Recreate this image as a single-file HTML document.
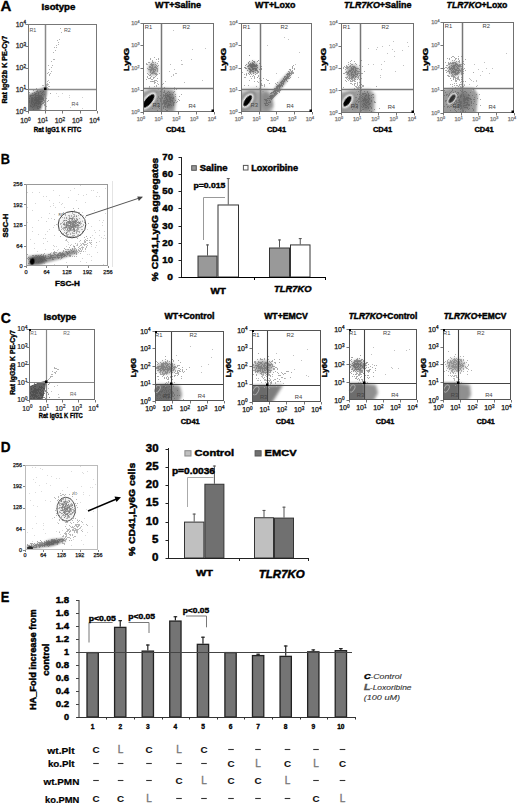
<!DOCTYPE html><html><head><meta charset="utf-8"><style>html,body{margin:0;padding:0;background:#fff}body{width:520px;height:804px;overflow:hidden}svg{display:block}text{font-family:"Liberation Sans",sans-serif}</style></head><body><svg width="520" height="804" viewBox="0 0 520 804"><defs><filter id="b0" x="-50%" y="-50%" width="200%" height="200%"><feGaussianBlur stdDeviation="0.4"/></filter><filter id="b1" x="-50%" y="-50%" width="200%" height="200%"><feGaussianBlur stdDeviation="1"/></filter><filter id="b2" x="-50%" y="-50%" width="200%" height="200%"><feGaussianBlur stdDeviation="2"/></filter><filter id="b1_5" x="-50%" y="-50%" width="200%" height="200%"><feGaussianBlur stdDeviation="1.5"/></filter><filter id="b0_7" x="-50%" y="-50%" width="200%" height="200%"><feGaussianBlur stdDeviation="0.7"/></filter><filter id="b3" x="-50%" y="-50%" width="200%" height="200%"><feGaussianBlur stdDeviation="3"/></filter><marker id="ah" markerWidth="6" markerHeight="6" refX="5" refY="3" orient="auto" markerUnits="userSpaceOnUse"><path d="M0 0L6 3L0 6z" fill="#000"/></marker></defs><rect width="520" height="804" fill="#fff"/><text x="0.64" y="11.2" font-size="14" font-weight="bold" fill="#000" stroke="#000" stroke-width="0.3" textLength="10.92" lengthAdjust="spacingAndGlyphs">A</text>
<text x="41.62" y="10.4" font-size="9.6" font-weight="bold" fill="#000" stroke="#000" stroke-width="0.45" textLength="33.77" lengthAdjust="spacingAndGlyphs">Isotype</text>
<text x="155.1" y="8.1" font-size="9.9" font-weight="bold" fill="#000" stroke="#000" stroke-width="0.45" textLength="45.99" lengthAdjust="spacingAndGlyphs">WT+Saline</text>
<text x="255.1" y="8.1" font-size="9.9" font-weight="bold" fill="#000" stroke="#000" stroke-width="0.45" textLength="40.29" lengthAdjust="spacingAndGlyphs">WT+Loxo</text>
<text x="344.1" y="8.1" font-size="9.9" font-weight="bold" fill="#000" stroke="#000" stroke-width="0.45" textLength="67.29" lengthAdjust="spacingAndGlyphs"><tspan font-style="italic">TLR7KO</tspan>+Saline</text>
<text x="446.6" y="8.1" font-size="9.9" font-weight="bold" fill="#000" stroke="#000" stroke-width="0.45" textLength="60.79" lengthAdjust="spacingAndGlyphs"><tspan font-style="italic">TLR7KO</tspan>+Loxo</text>
<clipPath id="c28_24"><rect x="28" y="24" width="69" height="87"/></clipPath>
<g clip-path="url(#c28_24)"><path d="M24 95L30 94L37 90.5L44 87.5L47 88L46.5 95L43 103L39 115L24 115z" fill="#707070" opacity="0.95" filter="url(#b1)"/></g>
<g clip-path="url(#c28_24)"><ellipse cx="36" cy="102" rx="5" ry="7" fill="#5a5a5a" opacity="0.7" transform="rotate(35 36 102)" filter="url(#b1_5)"/></g>
<path d="M36 88.5h1m-4 2h1m3 0h1m-2 1h1m0 0h1m2 0h1m2 0h1m1 0h1m-17 1h1m4 0h1m3 0h1m3 0h1m-11 1h1m2 0h1m0 0h1m1 0h1m2 0h1m8 0h1m-17 1h1m0 0h1m2 0h1m3 0h1m1 0h1m0 0h1m-16 1h1m0 0h1m0 0h1m0 0h1m1 0h1m0 0h1m0 0h1m0 0h1m0 0h1m0 0h1m0 0h1m-12 1h1m4 0h1m2 0h1m0 0h1m0 0h1m0 0h1m-11 1h1m0 0h1m1 0h1m0 0h1m0 0h1m0 0h1m0 0h1m0 0h1m0 0h1m0 0h1m0 0h1m2 0h1m-17 1h1m1 0h1m0 0h1m0 0h1m1 0h1m0 0h1m1 0h1m0 0h1m0 0h1m0 0h1m0 0h1m0 0h1m2 0h1m-16 1h1m0 0h1m1 0h1m0 0h1m0 0h1m0 0h1m0 0h1m0 0h1m0 0h1m0 0h1m0 0h1m0 0h1m-15 1h1m1 0h1m0 0h1m1 0h1m0 0h1m0 0h1m0 0h1m0 0h1m4 0h1m0 0h1m3 0h1m-20 1h1m1 0h1m0 0h1m3 0h1m0 0h1m0 0h1m0 0h1m0 0h1m0 0h1m0 0h1m1 0h1m2 0h1m-19 1h1m1 0h1m1 0h1m1 0h1m0 0h1m1 0h1m0 0h1m0 0h1m2 0h1m0 0h1m0 0h1m-15 1h1m2 0h1m0 0h1m0 0h1m0 0h1m0 0h1m0 0h1m0 0h1m1 0h1m0 0h1m-12 1h1m1 0h1m3 0h1m1 0h1m0 0h1m2 0h1m-15 1h1m3 0h1m1 0h1m3 0h1m3 0h1m-15 1h1m0 0h1m1 0h1m3 0h1m0 0h1m0 0h1m0 0h1m5 0h1m-15 1h1m4 0h1m1 0h1m0 0h1m-4 1h1m0 0h1m-6 1h1m-3 1h1m0 0h1m3 0h1m0 0h1" stroke="#505050" stroke-width="1" fill="none" opacity="0.5"/>
<path d="M60 28.5h1m0 4h1m-3 7h1m-3 1h1m0 2h1m-1 2h1m-3 1h1m-3 2h1m1 0h1m-2 3h1m-3 2h1m-1 7h1m0 0h1m-4 2h1m-4 4h1m3 0h1m-2 2h1m-3 2h1m1 2h1m-4 1h1m-2 1h1m2 0h1m-2 1h1m-1 1h1m-5 2h1m1 4h1m-2 3h1m0 0h1" stroke="#aaa" stroke-width="1" fill="none" opacity="0.9"/>
<path d="M48 80.5h1m0 2h1m-3 1h1m-3 1h1m2 0h1m-7 1h1m0 0h1m1 0h1m0 0h1m0 0h1m-2 1h1m1 0h1m0 0h1m-7 1h1m2 0h1m0 0h1m-2 1h1m0 0h1m0 0h1m-1 1h1" stroke="#aaa" stroke-width="1" fill="none" opacity="0.8"/>
<path d="M56 93.5h1m5 0h1m6 2h1m-12 1h1m10 1h1m12 0h1m-13 10h1m11 1h1" stroke="#ccc" stroke-width="1" fill="none" opacity="0.9"/>
<rect x="28.5" y="24.5" width="68" height="86" fill="none" stroke="#777" stroke-width="1"/>
<path d="M45.5 25L45.5 110" stroke="#8a8a8a" stroke-width="1.5" fill="none"/>
<path d="M29 89.5L96 89.5" stroke="#8a8a8a" stroke-width="1.5" fill="none"/>
<path d="M25.5 111.5L28 111.5" stroke="#666" stroke-width="0.9" fill="none"/>
<path d="M28.5 111L28.5 113.5" stroke="#666" stroke-width="0.9" fill="none"/>
<path d="M25.5 89.5L28 89.5" stroke="#666" stroke-width="0.9" fill="none"/>
<path d="M45.5 111L45.5 113.5" stroke="#666" stroke-width="0.9" fill="none"/>
<path d="M25.5 68.5L28 68.5" stroke="#666" stroke-width="0.9" fill="none"/>
<path d="M62.5 111L62.5 113.5" stroke="#666" stroke-width="0.9" fill="none"/>
<path d="M25.5 46.5L28 46.5" stroke="#666" stroke-width="0.9" fill="none"/>
<path d="M80.5 111L80.5 113.5" stroke="#666" stroke-width="0.9" fill="none"/>
<path d="M25.5 24.5L28 24.5" stroke="#666" stroke-width="0.9" fill="none"/>
<path d="M97.5 111L97.5 113.5" stroke="#666" stroke-width="0.9" fill="none"/>
<text x="26" y="113.52" font-size="7" font-weight="normal" fill="#333" text-anchor="end" stroke="#333" stroke-width="0.3">10<tspan font-size="4.62" dy="-2.31">0</tspan></text>
<text x="30.5" y="123" font-size="7" font-weight="normal" fill="#333" text-anchor="end" stroke="#333" stroke-width="0.3">10<tspan font-size="4.62" dy="-2.31">0</tspan></text>
<text x="26" y="91.77" font-size="7" font-weight="normal" fill="#333" text-anchor="end" stroke="#333" stroke-width="0.3">10<tspan font-size="4.62" dy="-2.31">1</tspan></text>
<text x="47.75" y="123" font-size="7" font-weight="normal" fill="#333" text-anchor="end" stroke="#333" stroke-width="0.3">10<tspan font-size="4.62" dy="-2.31">1</tspan></text>
<text x="26" y="70.02" font-size="7" font-weight="normal" fill="#333" text-anchor="end" stroke="#333" stroke-width="0.3">10<tspan font-size="4.62" dy="-2.31">2</tspan></text>
<text x="65.0" y="123" font-size="7" font-weight="normal" fill="#333" text-anchor="end" stroke="#333" stroke-width="0.3">10<tspan font-size="4.62" dy="-2.31">2</tspan></text>
<text x="26" y="48.27" font-size="7" font-weight="normal" fill="#333" text-anchor="end" stroke="#333" stroke-width="0.3">10<tspan font-size="4.62" dy="-2.31">3</tspan></text>
<text x="82.25" y="123" font-size="7" font-weight="normal" fill="#333" text-anchor="end" stroke="#333" stroke-width="0.3">10<tspan font-size="4.62" dy="-2.31">3</tspan></text>
<text x="26" y="26.52" font-size="7" font-weight="normal" fill="#333" text-anchor="end" stroke="#333" stroke-width="0.3">10<tspan font-size="4.62" dy="-2.31">4</tspan></text>
<text x="99.5" y="123" font-size="7" font-weight="normal" fill="#333" text-anchor="end" stroke="#333" stroke-width="0.3">10<tspan font-size="4.62" dy="-2.31">4</tspan></text>
<text x="29.4" y="31.8" font-size="5.4" font-weight="normal" fill="#555">R1</text>
<text x="63.9" y="31.8" font-size="5.4" font-weight="normal" fill="#555">R2</text>
<text x="71.5" y="105.8" font-size="5.4" font-weight="normal" fill="#555">R4</text>
<rect x="44" y="87.5" width="2.5" height="2.5" fill="#000" stroke="none" stroke-width="1"/>
<text x="6.6" y="69.65" font-size="7.1" font-weight="bold" fill="#000" stroke="#000" stroke-width="0.35" text-anchor="middle" textLength="67.87" lengthAdjust="spacingAndGlyphs" transform="rotate(-90 6.6 69.65)">Rat IgG2b K PE-Cy7</text>
<text x="33.74" y="131.5" font-size="6.6" font-weight="bold" fill="#000" stroke="#000" stroke-width="0.33" textLength="47.53" lengthAdjust="spacingAndGlyphs">Rat IgG1 K FITC</text>
<clipPath id="c143_23"><rect x="143" y="23" width="71" height="89"/></clipPath>
<g clip-path="url(#c143_23)"><path d="M139 93L150 89L165 88.5L174 90L176 100L174 116L139 116z" fill="#9a9a9a" opacity="0.95" filter="url(#b1_5)"/></g>
<g clip-path="url(#c143_23)"><ellipse cx="169" cy="101" rx="5.5" ry="8.5" fill="#707070" opacity="0.85" transform="rotate(0 169 101)" filter="url(#b1_5)"/></g>
<g clip-path="url(#c143_23)"><ellipse cx="156" cy="103" rx="4" ry="6" fill="#888" opacity="0.8" transform="rotate(0 156 103)" filter="url(#b1_5)"/></g>
<path d="M164 87.5h1m-5 1h1m1 0h1m0 0h1m2 0h1m-5 1h1m11 0h1m1 0h1m-13 1h1m-5 1h1m3 0h1m3 0h1m5 0h1m-19 1h1m6 0h1m0 0h1m2 0h1m1 0h1m3 0h1m-9 1h1m0 0h1m-12 1h1m0 0h1m6 0h1m1 0h1m1 0h1m1 0h1m0 0h1m1 0h1m2 0h1m5 0h1m-29 1h1m0 0h1m0 0h1m4 0h1m0 0h1m1 0h1m0 0h1m0 0h1m0 0h1m0 0h1m0 0h1m-11 1h1m4 0h1m1 0h1m1 0h1m0 0h1m0 0h1m5 0h1m3 0h1m-22 1h1m2 0h1m0 0h1m2 0h1m0 0h1m2 0h1m0 0h1m0 0h1m1 0h1m-19 1h1m1 0h1m1 0h1m0 0h1m0 0h1m0 0h1m1 0h1m1 0h1m2 0h1m0 0h1m1 0h1m0 0h1m-19 1h1m4 0h1m0 0h1m4 0h1m0 0h1m1 0h1m0 0h1m7 0h1m-24 1h1m1 0h1m2 0h1m2 0h1m0 0h1m0 0h1m1 0h1m2 0h1m0 0h1m0 0h1m2 0h1m3 0h1m-20 1h1m2 0h1m0 0h1m1 0h1m0 0h1m0 0h1m0 0h1m0 0h1m1 0h1m4 0h1m-15 1h1m0 0h1m0 0h1m0 0h1m3 0h1m2 0h1m0 0h1m1 0h1m-22 1h1m2 0h1m3 0h1m0 0h1m0 0h1m0 0h1m0 0h1m1 0h1m4 0h1m-22 1h1m0 0h1m8 0h1m1 0h1m0 0h1m2 0h1m0 0h1m0 0h1m2 0h1m-10 1h1m2 0h1m0 0h1m0 0h1m1 0h1m1 0h1m-15 1h1m3 0h1m0 0h1m0 0h1m1 0h1m-10 1h1m4 0h1m1 0h1m1 0h1m-16 1h1m6 0h1m3 0h1m-3 1h1m3 0h1m-9 1h1m8 0h1m0 0h1m-2 1h1m1 0h1m8 0h1" stroke="#555" stroke-width="1" fill="none" opacity="0.5"/>
<g clip-path="url(#c143_23)"><ellipse cx="153" cy="69" rx="5" ry="6.5" fill="#999" opacity="0.9" transform="rotate(0 153 69)" filter="url(#b1_5)"/></g>
<path d="M154 57.5h1m-5 1h1m7 0h1m-9 1h1m5 0h1m1 0h1m-7 1h1m-1 1h1m5 0h1m-11 1h1m0 0h1m2 0h1m0 0h1m1 0h1m5 0h1m-16 1h1m4 0h1m5 0h1m-12 1h1m0 0h1m2 0h1m0 0h1m0 0h1m0 0h1m1 0h1m-5 1h1m0 0h1m3 0h1m1 0h1m2 0h1m-13 1h1m0 0h1m1 0h1m2 0h1m1 0h1m-9 1h1m0 0h1m0 0h1m0 0h1m1 0h1m0 0h1m0 0h1m-10 1h1m3 0h1m0 0h1m0 0h1m2 0h1m0 0h1m-10 1h1m0 0h1m0 0h1m0 0h1m0 0h1m0 0h1m0 0h1m0 0h1m1 0h1m-8 1h1m0 0h1m1 0h1m1 0h1m1 0h1m-8 1h1m2 0h1m0 0h1m2 0h1m-8 1h1m1 0h1m0 0h1m-7 1h1m3 0h1m0 0h1m1 0h1m0 0h1m0 0h1m2 0h1m-12 1h1m1 0h1m4 0h1m0 0h1m0 0h1m-9 1h1m0 0h1m5 0h1m-2 1h1m-6 1h1m3 0h1m-6 1h1m0 0h1m3 2h1m1 0h1m-5 1h1" stroke="#666" stroke-width="1" fill="none" opacity="0.55"/>
<path d="M154 72.5h1m-2 1h1m-5 2h1m-3 1h1m3 0h1m-5 1h1m2 0h1m2 0h1m-6 1h1m4 0h1m3 0h1m-12 1h1m4 0h1m0 0h1m2 1h1m-6 1h1m0 0h1m0 0h1m0 0h1m0 0h1m2 0h1m-4 1h1m0 0h1m-2 1h1m8 0h1m-6 1h1m3 0h1m-7 1h1m-8 1h1m4 0h1m1 0h1m1 2h1m-1 1h1m0 2h1" stroke="#999" stroke-width="1" fill="none" opacity="0.8"/>
<path d="M191 59.5h1m-11 1h1m-12 4h1m11 0h1m-9 5h1m-6 2h1m5 2h1m0 0h1m-4 1h1m-1 1h1m-9 6h1m18 1h1m-28 1h1m-9 4h1m24 0h1" stroke="#aaa" stroke-width="1" fill="none" opacity="0.8"/>
<path d="M173 30.5h1m31 18h1m-14 1h1m-12 15h1m-11 12h1m30 4h1" stroke="#bbb" stroke-width="1" fill="none" opacity="0.9"/>
<g clip-path="url(#c143_23)"><ellipse cx="148.5" cy="101" rx="13" ry="7" fill="#888" opacity="0.9" transform="rotate(-50 148.5 101)" filter="url(#b1)"/></g>
<g clip-path="url(#c143_23)"><ellipse cx="148.5" cy="101" rx="10.5" ry="5" fill="#fff" opacity="1" transform="rotate(-50 148.5 101)" filter="url(#b1)"/></g>
<g clip-path="url(#c143_23)"><ellipse cx="148.5" cy="101" rx="8.5" ry="3.2" fill="#000" opacity="1" transform="rotate(-50 148.5 101)" filter="url(#b0)"/></g>
<rect x="143.5" y="23.5" width="70" height="88" fill="none" stroke="#707070" stroke-width="1"/>
<path d="M161.5 24L161.5 111" stroke="#777" stroke-width="1.5" fill="none"/>
<path d="M144 88.5L213 88.5" stroke="#777" stroke-width="1.5" fill="none"/>
<path d="M140.5 112.5L143 112.5" stroke="#666" stroke-width="0.9" fill="none"/>
<path d="M143.5 112L143.5 114.5" stroke="#666" stroke-width="0.9" fill="none"/>
<path d="M140.5 90.5L143 90.5" stroke="#666" stroke-width="0.9" fill="none"/>
<path d="M161.5 112L161.5 114.5" stroke="#666" stroke-width="0.9" fill="none"/>
<path d="M140.5 68.5L143 68.5" stroke="#666" stroke-width="0.9" fill="none"/>
<path d="M178.5 112L178.5 114.5" stroke="#666" stroke-width="0.9" fill="none"/>
<path d="M140.5 45.5L143 45.5" stroke="#666" stroke-width="0.9" fill="none"/>
<path d="M196.5 112L196.5 114.5" stroke="#666" stroke-width="0.9" fill="none"/>
<path d="M140.5 23.5L143 23.5" stroke="#666" stroke-width="0.9" fill="none"/>
<path d="M214.5 112L214.5 114.5" stroke="#666" stroke-width="0.9" fill="none"/>
<text x="139.5" y="114.016" font-size="5.6" font-weight="normal" fill="#777" text-anchor="end" stroke="#777" stroke-width="0.25">10<tspan font-size="3.70" dy="-1.85">0</tspan></text>
<text x="145.0" y="120.5" font-size="5.6" font-weight="normal" fill="#777" text-anchor="end" stroke="#777" stroke-width="0.25">10<tspan font-size="3.70" dy="-1.85">0</tspan></text>
<text x="139.5" y="91.766" font-size="5.6" font-weight="normal" fill="#777" text-anchor="end" stroke="#777" stroke-width="0.25">10<tspan font-size="3.70" dy="-1.85">1</tspan></text>
<text x="162.75" y="120.5" font-size="5.6" font-weight="normal" fill="#777" text-anchor="end" stroke="#777" stroke-width="0.25">10<tspan font-size="3.70" dy="-1.85">1</tspan></text>
<text x="139.5" y="69.516" font-size="5.6" font-weight="normal" fill="#777" text-anchor="end" stroke="#777" stroke-width="0.25">10<tspan font-size="3.70" dy="-1.85">2</tspan></text>
<text x="180.5" y="120.5" font-size="5.6" font-weight="normal" fill="#777" text-anchor="end" stroke="#777" stroke-width="0.25">10<tspan font-size="3.70" dy="-1.85">2</tspan></text>
<text x="139.5" y="47.266" font-size="5.6" font-weight="normal" fill="#777" text-anchor="end" stroke="#777" stroke-width="0.25">10<tspan font-size="3.70" dy="-1.85">3</tspan></text>
<text x="198.25" y="120.5" font-size="5.6" font-weight="normal" fill="#777" text-anchor="end" stroke="#777" stroke-width="0.25">10<tspan font-size="3.70" dy="-1.85">3</tspan></text>
<text x="139.5" y="25.016" font-size="5.6" font-weight="normal" fill="#777" text-anchor="end" stroke="#777" stroke-width="0.25">10<tspan font-size="3.70" dy="-1.85">4</tspan></text>
<text x="216.0" y="120.5" font-size="5.6" font-weight="normal" fill="#777" text-anchor="end" stroke="#777" stroke-width="0.25">10<tspan font-size="3.70" dy="-1.85">4</tspan></text>
<text x="144.8" y="28.8" font-size="5.8" font-weight="normal" fill="#444">R1</text>
<text x="182.5" y="28.8" font-size="5.8" font-weight="normal" fill="#444">R2</text>
<text x="152.5" y="107.0" font-size="5.8" font-weight="normal" fill="#444">R3</text>
<text x="188.4" y="108.4" font-size="5.8" font-weight="normal" fill="#444">R4</text>
<rect x="211.5" y="109.5" width="2.5" height="2.5" fill="#000" stroke="none" stroke-width="1"/>
<text x="129.5" y="59.6" font-size="7.5" font-weight="bold" fill="#000" stroke="#000" stroke-width="0.38" text-anchor="middle" textLength="23.2" lengthAdjust="spacingAndGlyphs" transform="rotate(-90 129.5 59.6)">Ly6G</text>
<text x="165.94" y="131.5" font-size="6.6" font-weight="bold" fill="#000" stroke="#000" stroke-width="0.33" textLength="19.13" lengthAdjust="spacingAndGlyphs">CD41</text>
<clipPath id="c241_23"><rect x="241" y="23" width="71" height="89"/></clipPath>
<g clip-path="url(#c241_23)"><path d="M237 92L255 89L262 89L270 92L272 116L237 116z" fill="#a0a0a0" opacity="0.95" filter="url(#b2)"/></g>
<g clip-path="url(#c241_23)"><ellipse cx="266" cy="101" rx="5" ry="10" fill="#888" opacity="0.8" transform="rotate(0 266 101)" filter="url(#b2)"/></g>
<g clip-path="url(#c241_23)"><ellipse cx="279" cy="87" rx="20" ry="2.8" fill="#808080" opacity="0.9" transform="rotate(-52 279 87)" filter="url(#b1)"/></g>
<g clip-path="url(#c241_23)"><ellipse cx="268" cy="101" rx="4" ry="8" fill="#888" opacity="0.8" transform="rotate(-30 268 101)" filter="url(#b1_5)"/></g>
<path d="M293 65.5h1m-2 1h1m-1 1h1m-1 1h1m1 0h1m-6 1h1m0 0h1m3 0h1m-5 1h1m1 0h1m-5 1h1m0 0h1m1 0h1m0 0h1m-4 1h1m1 0h1m0 0h1m0 0h1m-7 1h1m0 0h1m0 0h1m0 0h1m0 0h1m0 0h1m0 0h1m-8 1h1m0 0h1m0 0h1m0 0h1m1 0h1m-5 1h1m1 0h1m0 0h1m-7 1h1m0 0h1m1 0h1m0 0h1m0 0h1m-6 1h1m1 0h1m0 0h1m0 0h1m1 0h1m-8 1h1m1 0h1m0 0h1m0 0h1m0 0h1m0 0h1m-7 1h1m0 0h1m0 0h1m0 0h1m-5 1h1m1 0h1m1 0h1m-6 1h1m0 0h1m0 0h1m0 0h1m2 0h1m-11 1h1m2 0h1m0 0h1m1 0h1m-3 1h1m0 0h1m0 0h1m-8 1h1m2 0h1m1 0h1m1 0h1m-7 1h1m0 0h1m0 0h1m0 0h1m0 0h1m0 0h1m-7 1h1m0 0h1m0 0h1m0 0h1m0 0h1m1 0h1m-7 1h1m0 0h1m1 0h1m-6 1h1m0 0h1m0 0h1m0 0h1m1 0h1m-5 1h1m5 0h1m-8 1h1m0 0h1m0 0h1m0 0h1m0 0h1m0 0h1m0 0h1m-8 1h1m0 0h1m0 0h1m1 0h1m0 0h1m0 0h1m-9 1h1m0 0h1m0 0h1m1 0h1m0 0h1m2 0h1m-10 1h1m0 0h1m2 0h1m0 0h1m0 0h1m0 0h1m-4 1h1m0 0h1m0 0h1m-7 1h1m0 0h1m0 0h1m0 0h1m0 0h1m0 0h1m-7 1h1m0 0h1m0 0h1m0 0h1m0 0h1m0 0h1m-5 1h1m0 0h1m0 0h1m0 0h1m-7 1h1m0 0h1m0 0h1m0 0h1m0 0h1m0 0h1m-9 1h1m0 0h1m0 0h1m4 0h1m-7 1h1m0 0h1m0 0h1m1 0h1m-4 1h1m3 0h1m-5 1h1m1 0h1m0 0h1m0 0h1m-7 1h1m0 0h1m0 0h1m0 0h1m-3 1h1m2 0h1m-4 1h1m0 0h1m0 0h1" stroke="#555" stroke-width="1" fill="none" opacity="0.55"/>
<g clip-path="url(#c241_23)"><ellipse cx="253" cy="67.5" rx="5.5" ry="5.5" fill="#7a7a7a" opacity="0.9" transform="rotate(0 253 67.5)" filter="url(#b1_5)"/></g>
<path d="M249 55.5h1m2 5h1m5 0h1m-10 1h1m3 0h1m0 0h1m2 0h1m-10 1h1m3 0h1m1 0h1m-7 1h1m1 0h1m1 0h1m0 0h1m5 0h1m-14 1h1m2 0h1m0 0h1m0 0h1m0 0h1m0 0h1m0 0h1m1 0h1m-12 1h1m2 0h1m0 0h1m0 0h1m0 0h1m0 0h1m0 0h1m0 0h1m0 0h1m0 0h1m0 0h1m-11 1h1m0 0h1m1 0h1m0 0h1m0 0h1m0 0h1m0 0h1m0 0h1m0 0h1m4 0h1m-18 1h1m0 0h1m5 0h1m0 0h1m4 0h1m-13 1h1m0 0h1m1 0h1m0 0h1m2 0h1m0 0h1m0 0h1m0 0h1m0 0h1m3 0h1m0 0h1m-13 1h1m0 0h1m1 0h1m0 0h1m1 0h1m0 0h1m2 0h1m1 0h1m-15 1h1m2 0h1m0 0h1m2 0h1m0 0h1m0 0h1m0 0h1m-9 1h1m0 0h1m0 0h1m0 0h1m0 0h1m3 0h1m0 0h1m-10 1h1m0 0h1m4 0h1m2 0h1m-11 1h1m1 0h1m2 0h1m-8 1h1m2 0h1m5 0h1m1 3h1" stroke="#555" stroke-width="1" fill="none" opacity="0.6"/>
<path d="M251 68.5h1m2 2h1m-4 1h1m-10 1h1m6 0h1m3 0h1m3 0h1m-12 1h1m9 0h1m0 0h1m-14 1h1m4 0h1m1 0h1m-6 1h1m6 0h1m4 0h1m-9 1h1m1 0h1m1 0h1m3 0h1m-15 1h1m0 0h1m8 0h1m-4 1h1m2 0h1m4 0h1m3 0h1m2 1h1m-18 1h1m11 0h1m5 0h1m0 0h1m-15 1h1m2 0h1m0 1h1m2 1h1m7 0h1m5 0h1m-15 1h1m2 0h1m-21 1h1m3 0h1m11 0h1m0 0h1m0 0h1m1 0h1m-9 1h1m7 0h1m-6 2h1m3 1h1m-2 2h1m0 0h1m-3 4h1" stroke="#999" stroke-width="1" fill="none" opacity="0.8"/>
<path d="M284 37.5h1m3 2h1m-22 6h1m31 7h1m-5 12h1m-7 7h1m-14 2h1m21 4h1" stroke="#bbb" stroke-width="1" fill="none" opacity="0.9"/>
<g clip-path="url(#c241_23)"><ellipse cx="247.6" cy="100.7" rx="11" ry="6.5" fill="#777" opacity="0.9" transform="rotate(-55 247.6 100.7)" filter="url(#b1)"/></g>
<g clip-path="url(#c241_23)"><ellipse cx="247.6" cy="100.7" rx="8.5" ry="4.5" fill="#fff" opacity="1" transform="rotate(-55 247.6 100.7)" filter="url(#b1)"/></g>
<g clip-path="url(#c241_23)"><ellipse cx="247.6" cy="100.7" rx="6.5" ry="2.8" fill="#000" opacity="1" transform="rotate(-55 247.6 100.7)" filter="url(#b0)"/></g>
<rect x="241.5" y="23.5" width="70" height="88" fill="none" stroke="#707070" stroke-width="1"/>
<path d="M260.5 24L260.5 111" stroke="#777" stroke-width="1.5" fill="none"/>
<path d="M242 89.5L311 89.5" stroke="#777" stroke-width="1.5" fill="none"/>
<path d="M238.5 112.5L241 112.5" stroke="#666" stroke-width="0.9" fill="none"/>
<path d="M241.5 112L241.5 114.5" stroke="#666" stroke-width="0.9" fill="none"/>
<path d="M238.5 90.5L241 90.5" stroke="#666" stroke-width="0.9" fill="none"/>
<path d="M259.5 112L259.5 114.5" stroke="#666" stroke-width="0.9" fill="none"/>
<path d="M238.5 68.5L241 68.5" stroke="#666" stroke-width="0.9" fill="none"/>
<path d="M276.5 112L276.5 114.5" stroke="#666" stroke-width="0.9" fill="none"/>
<path d="M238.5 45.5L241 45.5" stroke="#666" stroke-width="0.9" fill="none"/>
<path d="M294.5 112L294.5 114.5" stroke="#666" stroke-width="0.9" fill="none"/>
<path d="M238.5 23.5L241 23.5" stroke="#666" stroke-width="0.9" fill="none"/>
<path d="M312.5 112L312.5 114.5" stroke="#666" stroke-width="0.9" fill="none"/>
<text x="237.5" y="114.016" font-size="5.6" font-weight="normal" fill="#777" text-anchor="end" stroke="#777" stroke-width="0.25">10<tspan font-size="3.70" dy="-1.85">0</tspan></text>
<text x="243.0" y="120.5" font-size="5.6" font-weight="normal" fill="#777" text-anchor="end" stroke="#777" stroke-width="0.25">10<tspan font-size="3.70" dy="-1.85">0</tspan></text>
<text x="237.5" y="91.766" font-size="5.6" font-weight="normal" fill="#777" text-anchor="end" stroke="#777" stroke-width="0.25">10<tspan font-size="3.70" dy="-1.85">1</tspan></text>
<text x="260.75" y="120.5" font-size="5.6" font-weight="normal" fill="#777" text-anchor="end" stroke="#777" stroke-width="0.25">10<tspan font-size="3.70" dy="-1.85">1</tspan></text>
<text x="237.5" y="69.516" font-size="5.6" font-weight="normal" fill="#777" text-anchor="end" stroke="#777" stroke-width="0.25">10<tspan font-size="3.70" dy="-1.85">2</tspan></text>
<text x="278.5" y="120.5" font-size="5.6" font-weight="normal" fill="#777" text-anchor="end" stroke="#777" stroke-width="0.25">10<tspan font-size="3.70" dy="-1.85">2</tspan></text>
<text x="237.5" y="47.266" font-size="5.6" font-weight="normal" fill="#777" text-anchor="end" stroke="#777" stroke-width="0.25">10<tspan font-size="3.70" dy="-1.85">3</tspan></text>
<text x="296.25" y="120.5" font-size="5.6" font-weight="normal" fill="#777" text-anchor="end" stroke="#777" stroke-width="0.25">10<tspan font-size="3.70" dy="-1.85">3</tspan></text>
<text x="237.5" y="25.016" font-size="5.6" font-weight="normal" fill="#777" text-anchor="end" stroke="#777" stroke-width="0.25">10<tspan font-size="3.70" dy="-1.85">4</tspan></text>
<text x="314.0" y="120.5" font-size="5.6" font-weight="normal" fill="#777" text-anchor="end" stroke="#777" stroke-width="0.25">10<tspan font-size="3.70" dy="-1.85">4</tspan></text>
<text x="242.8" y="28.8" font-size="5.8" font-weight="normal" fill="#444">R1</text>
<text x="280.5" y="28.8" font-size="5.8" font-weight="normal" fill="#444">R2</text>
<text x="250.5" y="107.0" font-size="5.8" font-weight="normal" fill="#444">R3</text>
<text x="286.4" y="108.4" font-size="5.8" font-weight="normal" fill="#444">R4</text>
<rect x="309.5" y="109.5" width="2.5" height="2.5" fill="#000" stroke="none" stroke-width="1"/>
<text x="226" y="59.6" font-size="7.5" font-weight="bold" fill="#000" stroke="#000" stroke-width="0.38" text-anchor="middle" textLength="23.2" lengthAdjust="spacingAndGlyphs" transform="rotate(-90 226 59.6)">Ly6G</text>
<text x="266.94" y="131.5" font-size="6.6" font-weight="bold" fill="#000" stroke="#000" stroke-width="0.33" textLength="19.13" lengthAdjust="spacingAndGlyphs">CD41</text>
<clipPath id="c341_23"><rect x="341" y="23" width="73" height="90"/></clipPath>
<g clip-path="url(#c341_23)"><path d="M337 93L355 89.5L370 89.5L375 95L374 117L337 117z" fill="#9a9a9a" opacity="0.95" filter="url(#b1_5)"/></g>
<g clip-path="url(#c341_23)"><ellipse cx="366" cy="102" rx="5.5" ry="9" fill="#707070" opacity="0.85" transform="rotate(0 366 102)" filter="url(#b1_5)"/></g>
<g clip-path="url(#c341_23)"><ellipse cx="355" cy="104" rx="4" ry="6" fill="#888" opacity="0.8" transform="rotate(0 355 104)" filter="url(#b1_5)"/></g>
<path d="M376 86.5h1m-23 2h1m8 1h1m-3 1h1m-4 1h1m5 0h1m2 0h1m-8 1h1m6 0h1m-17 1h1m10 0h1m0 0h1m0 0h1m0 0h1m2 0h1m-12 1h1m1 0h1m2 0h1m0 0h1m2 0h1m1 0h1m3 0h1m0 0h1m-14 1h1m0 0h1m3 0h1m0 0h1m1 0h1m0 0h1m1 0h1m-13 1h1m2 0h1m2 0h1m2 0h1m-19 1h1m4 0h1m0 0h1m2 0h1m1 0h1m2 0h1m3 0h1m2 0h1m1 0h1m-21 1h1m4 0h1m0 0h1m0 0h1m1 0h1m1 0h1m0 0h1m2 0h1m0 0h1m-12 1h1m0 0h1m3 0h1m0 0h1m0 0h1m0 0h1m0 0h1m1 0h1m-17 1h1m3 0h1m4 0h1m0 0h1m0 0h1m0 0h1m0 0h1m1 0h1m2 0h1m-23 1h1m6 0h1m1 0h1m0 0h1m0 0h1m0 0h1m1 0h1m1 0h1m1 0h1m0 0h1m2 0h1m2 0h1m-23 1h1m5 0h1m1 0h1m4 0h1m0 0h1m0 0h1m0 0h1m5 0h1m0 0h1m-21 1h1m7 0h1m0 0h1m1 0h1m2 0h1m0 0h1m-9 1h1m1 0h1m0 0h1m2 0h1m0 0h1m-10 1h1m2 0h1m1 0h1m0 0h1m-13 1h1m1 0h1m0 0h1m2 0h1m0 0h1m1 0h1m3 0h1m2 0h1m-20 1h1m8 0h1m1 0h1m2 0h1m0 0h1m1 0h1m2 0h1m-15 1h1m10 0h1m2 0h1m7 0h1m-28 1h1m9 0h1m0 0h1m10 0h1m-14 1h1m7 0h1m-10 1h1m10 0h1m-14 1h1m0 0h1m7 0h1" stroke="#555" stroke-width="1" fill="none" opacity="0.5"/>
<g clip-path="url(#c341_23)"><ellipse cx="353" cy="72" rx="6.5" ry="7" fill="#8a8a8a" opacity="0.9" transform="rotate(0 353 72)" filter="url(#b1_5)"/></g>
<path d="M351 60.5h1m9 0h1m-12 1h1m3 0h1m-7 1h1m1 1h1m4 0h1m4 0h1m-13 1h1m2 0h1m0 0h1m3 0h1m-11 1h1m3 0h1m8 0h1m-16 1h1m1 0h1m0 0h1m1 0h1m0 0h1m1 0h1m0 0h1m0 0h1m7 0h1m-20 1h1m1 0h1m0 0h1m0 0h1m0 0h1m2 0h1m1 0h1m0 0h1m0 0h1m-13 1h1m2 0h1m0 0h1m3 0h1m0 0h1m0 0h1m1 0h1m0 0h1m0 0h1m0 0h1m-14 1h1m5 0h1m0 0h1m0 0h1m1 0h1m3 0h1m-11 1h1m0 0h1m0 0h1m1 0h1m1 0h1m0 0h1m3 0h1m-15 1h1m1 0h1m0 0h1m0 0h1m1 0h1m1 0h1m0 0h1m1 0h1m0 0h1m0 0h1m4 0h1m-20 1h1m0 0h1m0 0h1m0 0h1m2 0h1m0 0h1m0 0h1m0 0h1m0 0h1m4 0h1m-18 1h1m0 0h1m2 0h1m0 0h1m1 0h1m0 0h1m1 0h1m0 0h1m0 0h1m1 0h1m0 0h1m0 0h1m1 0h1m0 0h1m-16 1h1m1 0h1m1 0h1m0 0h1m0 0h1m1 0h1m0 0h1m0 0h1m-10 1h1m0 0h1m1 0h1m1 0h1m0 0h1m2 0h1m1 0h1m0 0h1m-12 1h1m1 0h1m0 0h1m0 0h1m1 0h1m0 0h1m1 0h1m-14 1h1m0 0h1m0 0h1m1 0h1m1 0h1m0 0h1m0 0h1m1 0h1m2 0h1m-13 1h1m1 0h1m0 0h1m0 0h1m0 0h1m0 0h1m1 0h1m3 0h1m2 0h1m-13 1h1m1 0h1m3 0h1m1 0h1m1 0h1m-15 1h1m6 0h1m1 0h1m-9 1h1m3 0h1m0 0h1m7 1h1m-6 2h1m6 0h1" stroke="#555" stroke-width="1" fill="none" opacity="0.5"/>
<path d="M349 72.5h1m3 0h1m4 0h1m-9 1h1m2 0h1m0 0h1m-9 1h1m3 0h1m-3 1h1m0 0h1m0 0h1m-4 1h1m1 0h1m1 0h1m6 0h1m-2 1h1m2 1h1m-14 1h1m3 0h1m0 0h1m1 0h1m-7 1h1m1 0h1m2 0h1m6 0h1m-9 1h1m1 0h1m0 0h1m1 1h1m-8 1h1m0 0h1m2 0h1m0 0h1m1 0h1m-6 1h1m4 0h1m3 0h1m-8 1h1m2 0h1m1 0h1m2 0h1m0 0h1m-9 1h1m0 0h1m1 0h1m3 0h1m0 0h1m-21 1h1m12 0h1m0 0h1m0 0h1m0 0h1m0 0h1m0 0h1m-8 1h1m2 0h1m0 0h1m-3 1h1m4 0h1m-6 2h1m-2 1h1m6 0h1m-9 3h1" stroke="#999" stroke-width="1" fill="none" opacity="0.8"/>
<path d="M393 41.5h1m13 1h1m-19 3h1m-8 1h1m25 0h1m-32 1h1m-10 1h1m7 1h1m15 0h1m9 1h1m-9 1h1m-8 2h1m6 3h1m-11 5h1m-17 3h1m4 0h1m7 0h1m21 1h1m-23 4h1m13 2h1m-16 4h1m-1 2h1" stroke="#bbb" stroke-width="1" fill="none" opacity="0.9"/>
<g clip-path="url(#c341_23)"><ellipse cx="347.4" cy="101.3" rx="10.5" ry="6.5" fill="#888" opacity="0.9" transform="rotate(-55 347.4 101.3)" filter="url(#b1)"/></g>
<g clip-path="url(#c341_23)"><ellipse cx="347.4" cy="101.3" rx="8" ry="4.5" fill="#fff" opacity="1" transform="rotate(-55 347.4 101.3)" filter="url(#b1)"/></g>
<g clip-path="url(#c341_23)"><ellipse cx="347.4" cy="101.3" rx="6" ry="2.8" fill="#000" opacity="1" transform="rotate(-55 347.4 101.3)" filter="url(#b0)"/></g>
<rect x="341.5" y="23.5" width="72" height="89" fill="none" stroke="#707070" stroke-width="1"/>
<path d="M360.5 24L360.5 112" stroke="#777" stroke-width="1.5" fill="none"/>
<path d="M342 89.5L413 89.5" stroke="#777" stroke-width="1.5" fill="none"/>
<path d="M338.5 113.5L341 113.5" stroke="#666" stroke-width="0.9" fill="none"/>
<path d="M341.5 113L341.5 115.5" stroke="#666" stroke-width="0.9" fill="none"/>
<path d="M338.5 90.5L341 90.5" stroke="#666" stroke-width="0.9" fill="none"/>
<path d="M359.5 113L359.5 115.5" stroke="#666" stroke-width="0.9" fill="none"/>
<path d="M338.5 68.5L341 68.5" stroke="#666" stroke-width="0.9" fill="none"/>
<path d="M378.5 113L378.5 115.5" stroke="#666" stroke-width="0.9" fill="none"/>
<path d="M338.5 46.5L341 46.5" stroke="#666" stroke-width="0.9" fill="none"/>
<path d="M396.5 113L396.5 115.5" stroke="#666" stroke-width="0.9" fill="none"/>
<path d="M338.5 23.5L341 23.5" stroke="#666" stroke-width="0.9" fill="none"/>
<path d="M414.5 113L414.5 115.5" stroke="#666" stroke-width="0.9" fill="none"/>
<text x="337.5" y="115.016" font-size="5.6" font-weight="normal" fill="#777" text-anchor="end" stroke="#777" stroke-width="0.25">10<tspan font-size="3.70" dy="-1.85">0</tspan></text>
<text x="343.0" y="120.5" font-size="5.6" font-weight="normal" fill="#777" text-anchor="end" stroke="#777" stroke-width="0.25">10<tspan font-size="3.70" dy="-1.85">0</tspan></text>
<text x="337.5" y="92.516" font-size="5.6" font-weight="normal" fill="#777" text-anchor="end" stroke="#777" stroke-width="0.25">10<tspan font-size="3.70" dy="-1.85">1</tspan></text>
<text x="361.25" y="120.5" font-size="5.6" font-weight="normal" fill="#777" text-anchor="end" stroke="#777" stroke-width="0.25">10<tspan font-size="3.70" dy="-1.85">1</tspan></text>
<text x="337.5" y="70.016" font-size="5.6" font-weight="normal" fill="#777" text-anchor="end" stroke="#777" stroke-width="0.25">10<tspan font-size="3.70" dy="-1.85">2</tspan></text>
<text x="379.5" y="120.5" font-size="5.6" font-weight="normal" fill="#777" text-anchor="end" stroke="#777" stroke-width="0.25">10<tspan font-size="3.70" dy="-1.85">2</tspan></text>
<text x="337.5" y="47.516" font-size="5.6" font-weight="normal" fill="#777" text-anchor="end" stroke="#777" stroke-width="0.25">10<tspan font-size="3.70" dy="-1.85">3</tspan></text>
<text x="397.75" y="120.5" font-size="5.6" font-weight="normal" fill="#777" text-anchor="end" stroke="#777" stroke-width="0.25">10<tspan font-size="3.70" dy="-1.85">3</tspan></text>
<text x="337.5" y="25.016" font-size="5.6" font-weight="normal" fill="#777" text-anchor="end" stroke="#777" stroke-width="0.25">10<tspan font-size="3.70" dy="-1.85">4</tspan></text>
<text x="416.0" y="120.5" font-size="5.6" font-weight="normal" fill="#777" text-anchor="end" stroke="#777" stroke-width="0.25">10<tspan font-size="3.70" dy="-1.85">4</tspan></text>
<text x="342.8" y="28.9" font-size="5.8" font-weight="normal" fill="#444">R1</text>
<text x="381.6" y="28.9" font-size="5.8" font-weight="normal" fill="#444">R2</text>
<text x="350.8" y="108.0" font-size="5.8" font-weight="normal" fill="#444">R3</text>
<text x="387.7" y="109.4" font-size="5.8" font-weight="normal" fill="#444">R4</text>
<rect x="411.5" y="110.5" width="2.5" height="2.5" fill="#000" stroke="none" stroke-width="1"/>
<text x="326" y="59.6" font-size="7.5" font-weight="bold" fill="#000" stroke="#000" stroke-width="0.38" text-anchor="middle" textLength="23.2" lengthAdjust="spacingAndGlyphs" transform="rotate(-90 326 59.6)">Ly6G</text>
<text x="372.94" y="131.5" font-size="6.6" font-weight="bold" fill="#000" stroke="#000" stroke-width="0.33" textLength="19.13" lengthAdjust="spacingAndGlyphs">CD41</text>
<clipPath id="c443_22"><rect x="443" y="22" width="71" height="91"/></clipPath>
<g clip-path="url(#c443_22)"><path d="M439 90L460 87.5L474 88L478 95L476 117L439 117z" fill="#959595" opacity="0.95" filter="url(#b1)"/></g>
<g clip-path="url(#c443_22)"><ellipse cx="464" cy="101" rx="7" ry="9" fill="#707070" opacity="0.8" transform="rotate(0 464 101)" filter="url(#b1_5)"/></g>
<path d="M458 86.5h1m17 0h1m-12 2h1m2 0h1m1 0h1m-19 1h1m20 0h1m-30 1h1m7 0h1m7 0h1m-10 1h1m3 0h1m5 0h1m0 0h1m1 0h1m0 0h1m-21 1h1m4 0h1m2 0h1m3 0h1m0 0h1m1 0h1m2 0h1m2 0h1m3 0h1m-22 1h1m3 0h1m0 0h1m1 0h1m1 0h1m-13 1h1m0 0h1m1 0h1m1 0h1m5 0h1m3 0h1m0 0h1m0 0h1m4 0h1m7 0h1m2 0h1m-36 1h1m1 0h1m1 0h1m0 0h1m1 0h1m2 0h1m5 0h1m0 0h1m1 0h1m4 0h1m0 0h1m2 0h1m-25 1h1m1 0h1m4 0h1m0 0h1m1 0h1m1 0h1m0 0h1m0 0h1m0 0h1m0 0h1m-17 1h1m6 0h1m0 0h1m0 0h1m0 0h1m1 0h1m1 0h1m1 0h1m1 0h1m0 0h1m0 0h1m5 0h1m-25 1h1m0 0h1m2 0h1m7 0h1m0 0h1m0 0h1m0 0h1m0 0h1m0 0h1m0 0h1m0 0h1m0 0h1m6 0h1m-31 1h1m3 0h1m1 0h1m1 0h1m3 0h1m2 0h1m0 0h1m0 0h1m0 0h1m0 0h1m0 0h1m2 0h1m0 0h1m1 0h1m0 0h1m5 0h1m-36 1h1m0 0h1m6 0h1m0 0h1m0 0h1m0 0h1m1 0h1m0 0h1m3 0h1m0 0h1m0 0h1m1 0h1m0 0h1m-24 1h1m2 0h1m4 0h1m1 0h1m0 0h1m2 0h1m0 0h1m0 0h1m0 0h1m0 0h1m0 0h1m6 0h1m2 0h1m-27 1h1m0 0h1m2 0h1m0 0h1m0 0h1m1 0h1m0 0h1m0 0h1m0 0h1m0 0h1m0 0h1m0 0h1m1 0h1m0 0h1m0 0h1m0 0h1m3 0h1m-22 1h1m0 0h1m0 0h1m1 0h1m0 0h1m0 0h1m3 0h1m0 0h1m1 0h1m0 0h1m2 0h1m3 0h1m1 0h1m-28 1h1m3 0h1m0 0h1m1 0h1m4 0h1m1 0h1m1 0h1m3 0h1m0 0h1m0 0h1m0 0h1m6 0h1m-25 1h1m4 0h1m0 0h1m1 0h1m0 0h1m1 0h1m0 0h1m0 0h1m0 0h1m1 0h1m0 0h1m1 0h1m8 0h1m-37 1h1m2 0h1m0 0h1m1 0h1m0 0h1m1 0h1m1 0h1m0 0h1m0 0h1m0 0h1m1 0h1m0 0h1m1 0h1m-17 1h1m1 0h1m4 0h1m0 0h1m0 0h1m0 0h1m0 0h1m2 0h1m2 0h1m0 0h1m0 0h1m0 0h1m-13 1h1m4 0h1m0 0h1m0 0h1m4 0h1m1 0h1m2 0h1m-19 1h1m3 0h1m1 0h1m1 0h1m5 0h1m4 0h1m-24 1h1m4 0h1m7 0h1m9 0h1m-18 1h1m3 0h1m2 0h1m1 0h1m-8 1h1" stroke="#555" stroke-width="1" fill="none" opacity="0.5"/>
<g clip-path="url(#c443_22)"><ellipse cx="455" cy="69" rx="6.5" ry="7" fill="#8a8a8a" opacity="0.9" transform="rotate(0 455 69)" filter="url(#b1_5)"/></g>
<path d="M452 56.5h1m0 0h1m4 0h1m2 0h1m-11 1h1m2 0h1m-8 1h1m1 0h1m5 0h1m0 0h1m1 0h1m-10 1h1m5 0h1m2 0h1m6 0h1m-14 1h1m1 0h1m4 0h1m-4 1h1m1 0h1m0 0h1m2 0h1m0 0h1m-19 1h1m2 0h1m1 0h1m1 0h1m0 0h1m0 0h1m0 0h1m3 0h1m-12 1h1m0 0h1m0 0h1m0 0h1m0 0h1m0 0h1m1 0h1m0 0h1m5 0h1m0 0h1m-16 1h1m0 0h1m5 0h1m0 0h1m0 0h1m1 0h1m0 0h1m0 0h1m2 0h1m-19 1h1m0 0h1m3 0h1m1 0h1m0 0h1m0 0h1m1 0h1m0 0h1m0 0h1m0 0h1m-12 1h1m2 0h1m0 0h1m0 0h1m1 0h1m1 0h1m0 0h1m0 0h1m0 0h1m0 0h1m-18 1h1m0 0h1m1 0h1m0 0h1m1 0h1m0 0h1m0 0h1m0 0h1m2 0h1m4 0h1m-19 1h1m2 0h1m1 0h1m0 0h1m0 0h1m0 0h1m0 0h1m0 0h1m2 0h1m0 0h1m2 0h1m2 0h1m-16 1h1m0 0h1m1 0h1m1 0h1m0 0h1m0 0h1m2 0h1m1 0h1m1 0h1m-18 1h1m1 0h1m2 0h1m1 0h1m1 0h1m0 0h1m0 0h1m0 0h1m0 0h1m0 0h1m0 0h1m3 0h1m-19 1h1m0 0h1m0 0h1m1 0h1m0 0h1m0 0h1m0 0h1m0 0h1m2 0h1m1 0h1m0 0h1m1 0h1m-18 1h1m2 0h1m1 0h1m0 0h1m0 0h1m0 0h1m0 0h1m1 0h1m0 0h1m0 0h1m1 0h1m11 0h1m-25 1h1m1 0h1m3 0h1m0 0h1m0 0h1m0 0h1m2 0h1m1 0h1m-12 1h1m1 0h1m0 0h1m0 0h1m0 0h1m3 0h1m-15 1h1m5 0h1m-5 1h1m1 0h1m1 0h1m0 0h1m-2 1h1m1 0h1m-6 1h1m2 0h1m1 0h1m2 0h1m-6 1h1m4 0h1m-4 1h1" stroke="#555" stroke-width="1" fill="none" opacity="0.5"/>
<path d="M452 67.5h1m-8 3h1m8 0h1m-4 1h1m5 0h1m2 0h1m-13 4h1m2 0h1m0 0h1m0 0h1m1 0h1m-8 1h1m0 0h1m2 0h1m0 0h1m4 0h1m-6 1h1m0 0h1m2 0h1m0 0h1m2 0h1m0 0h1m-13 1h1m5 0h1m0 0h1m-5 1h1m1 0h1m1 0h1m1 0h1m1 0h1m-11 1h1m4 0h1m2 0h1m-5 1h1m0 0h1m4 0h1m1 0h1m1 0h1m-6 1h1m-7 1h1m1 0h1m-7 1h1m1 0h1m6 0h1m0 0h1m0 0h1m-8 1h1m1 0h1m0 0h1m1 0h1m2 0h1m1 0h1m-13 1h1m7 0h1m2 0h1m-9 1h1m4 0h1m0 0h1m-10 1h1m6 0h1m3 0h1m1 1h1m-17 1h1m12 0h1m-6 1h1m2 1h1" stroke="#999" stroke-width="1" fill="none" opacity="0.8"/>
<path d="M506 53.5h1m-23 9h1m-11 2h1m11 4h1m5 0h1m-15 1h1m3 2h1m6 2h1m-10 2h1m-12 3h1m0 1h1m0 1h1m4 0h1m-4 1h1m2 0h1m-13 3h1m4 0h1m7 1h1m-15 3h1m8 2h1" stroke="#bbb" stroke-width="1" fill="none" opacity="0.9"/>
<ellipse cx="452" cy="98.7" rx="6" ry="3" fill="none" stroke="#ccc" stroke-width="1.5" transform="rotate(-55 452 98.7)"/>
<g clip-path="url(#c443_22)"><ellipse cx="452" cy="98.7" rx="4.5" ry="2" fill="#333" opacity="1" transform="rotate(-55 452 98.7)" filter="url(#b0)"/></g>
<rect x="443.5" y="22.5" width="70" height="90" fill="none" stroke="#707070" stroke-width="1"/>
<path d="M462.5 23L462.5 112" stroke="#777" stroke-width="1.5" fill="none"/>
<path d="M444 88.5L513 88.5" stroke="#777" stroke-width="1.5" fill="none"/>
<path d="M440.5 113.5L443 113.5" stroke="#666" stroke-width="0.9" fill="none"/>
<path d="M443.5 113L443.5 115.5" stroke="#666" stroke-width="0.9" fill="none"/>
<path d="M440.5 90.5L443 90.5" stroke="#666" stroke-width="0.9" fill="none"/>
<path d="M461.5 113L461.5 115.5" stroke="#666" stroke-width="0.9" fill="none"/>
<path d="M440.5 68.5L443 68.5" stroke="#666" stroke-width="0.9" fill="none"/>
<path d="M478.5 113L478.5 115.5" stroke="#666" stroke-width="0.9" fill="none"/>
<path d="M440.5 45.5L443 45.5" stroke="#666" stroke-width="0.9" fill="none"/>
<path d="M496.5 113L496.5 115.5" stroke="#666" stroke-width="0.9" fill="none"/>
<path d="M440.5 22.5L443 22.5" stroke="#666" stroke-width="0.9" fill="none"/>
<path d="M514.5 113L514.5 115.5" stroke="#666" stroke-width="0.9" fill="none"/>
<text x="439.5" y="115.016" font-size="5.6" font-weight="normal" fill="#777" text-anchor="end" stroke="#777" stroke-width="0.25">10<tspan font-size="3.70" dy="-1.85">0</tspan></text>
<text x="445.0" y="120.5" font-size="5.6" font-weight="normal" fill="#777" text-anchor="end" stroke="#777" stroke-width="0.25">10<tspan font-size="3.70" dy="-1.85">0</tspan></text>
<text x="439.5" y="92.266" font-size="5.6" font-weight="normal" fill="#777" text-anchor="end" stroke="#777" stroke-width="0.25">10<tspan font-size="3.70" dy="-1.85">1</tspan></text>
<text x="462.75" y="120.5" font-size="5.6" font-weight="normal" fill="#777" text-anchor="end" stroke="#777" stroke-width="0.25">10<tspan font-size="3.70" dy="-1.85">1</tspan></text>
<text x="439.5" y="69.516" font-size="5.6" font-weight="normal" fill="#777" text-anchor="end" stroke="#777" stroke-width="0.25">10<tspan font-size="3.70" dy="-1.85">2</tspan></text>
<text x="480.5" y="120.5" font-size="5.6" font-weight="normal" fill="#777" text-anchor="end" stroke="#777" stroke-width="0.25">10<tspan font-size="3.70" dy="-1.85">2</tspan></text>
<text x="439.5" y="46.766" font-size="5.6" font-weight="normal" fill="#777" text-anchor="end" stroke="#777" stroke-width="0.25">10<tspan font-size="3.70" dy="-1.85">3</tspan></text>
<text x="498.25" y="120.5" font-size="5.6" font-weight="normal" fill="#777" text-anchor="end" stroke="#777" stroke-width="0.25">10<tspan font-size="3.70" dy="-1.85">3</tspan></text>
<text x="439.5" y="24.016" font-size="5.6" font-weight="normal" fill="#777" text-anchor="end" stroke="#777" stroke-width="0.25">10<tspan font-size="3.70" dy="-1.85">4</tspan></text>
<text x="516.0" y="120.5" font-size="5.6" font-weight="normal" fill="#777" text-anchor="end" stroke="#777" stroke-width="0.25">10<tspan font-size="3.70" dy="-1.85">4</tspan></text>
<text x="444.8" y="27.9" font-size="5.8" font-weight="normal" fill="#444">R1</text>
<text x="482.5" y="27.9" font-size="5.8" font-weight="normal" fill="#444">R2</text>
<text x="452.5" y="107.9" font-size="5.8" font-weight="normal" fill="#444">R3</text>
<text x="488.4" y="109.4" font-size="5.8" font-weight="normal" fill="#444">R4</text>
<rect x="511.5" y="110.5" width="2.5" height="2.5" fill="#000" stroke="none" stroke-width="1"/>
<text x="428" y="59.6" font-size="7.5" font-weight="bold" fill="#000" stroke="#000" stroke-width="0.38" text-anchor="middle" textLength="23.2" lengthAdjust="spacingAndGlyphs" transform="rotate(-90 428 59.6)">Ly6G</text>
<text x="474.44" y="131.5" font-size="6.6" font-weight="bold" fill="#000" stroke="#000" stroke-width="0.33" textLength="19.13" lengthAdjust="spacingAndGlyphs">CD41</text>
<text x="0.74" y="163.5" font-size="14" font-weight="bold" fill="#000" stroke="#000" stroke-width="0.3" textLength="9.22" lengthAdjust="spacingAndGlyphs">B</text>
<clipPath id="d26_184"><rect x="26" y="184" width="82" height="82"/></clipPath>
<path d="M80 185.5h1m-7 3h1m30 0h1m-53 2h1m16 0h1m20 0h1m1 0h1m-67 2h1m4 0h1m6 0h1m57 0h1m-20 2h1m7 0h1m-28 1h1m23 0h1m-41 1h1m2 0h1m49 0h1m2 0h1m-32 1h1m-20 3h1m26 0h1m-18 2h1m25 0h1m-51 1h1m17 0h1m8 0h1m-2 1h1m-9 1h1m-4 1h1m-24 1h1m27 0h1m-24 3h1m61 0h1m-13 2h1m22 1h1m-52 1h1m6 0h1m21 1h1m-43 2h1m28 0h1m-23 1h1m2 0h1m-14 2h1m60 0h1m3 0h1m-77 2h1m74 0h1m-49 3h1m47 0h1m-37 1h1m24 0h1m-60 1h1m35 2h1m8 0h1m16 1h1m-63 1h1m14 0h1m56 0h1m-10 1h1m-58 2h1m6 0h1m46 1h1m6 0h1m4 0h1m-4 2h1m-8 1h1m8 0h1m1 0h1m-76 1h1m68 2h1m-32 1h1m21 0h1m-57 1h1m33 1h1m-16 1h1m27 0h1m14 0h1m-41 1h1m17 0h1m7 0h1m8 0h1m-58 2h1m10 1h1m7 0h1m16 1h1m-34 1h1m28 0h1m18 0h1m-35 1h1m15 0h1m8 0h1m20 0h1m-11 2h1m1 0h1m-35 1h1m-16 3h1m5 0h1m13 1h1m30 1h1m-55 1h1m8 0h1m33 0h1m-15 1h1m19 0h1m-43 1h1m-13 1h1m21 0h1m48 0h1" stroke="#d0d0d0" stroke-width="1" fill="none" opacity="0.9"/>
<path d="M64 207.5h1m9 4h1m-26 2h1m9 0h1m2 0h1m-2 3h1m23 0h1m-19 2h1m9 0h1m4 2h1m-37 1h1m27 1h1m-11 2h1m-4 1h1m16 1h1m2 0h1m-29 1h1m10 0h1m10 0h1m5 0h1m-12 1h1m-22 1h1m37 0h1m-30 1h1m5 0h1m6 0h1m27 0h1m-27 1h1m-5 1h1m9 0h1m-3 2h1m-24 1h1m11 0h1m8 1h1m10 0h1m-11 1h1m-34 1h1m1 0h1m19 2h1m-19 1h1m19 0h1m11 0h1m-37 2h1m33 0h1m2 0h1m-10 1h1m-19 1h1m19 0h1m2 0h1m-23 1h1m11 0h1m28 1h1m-38 2h1m7 0h1m-10 1h1m12 3h1m-8 1h1m0 1h1m26 1h1m-10 2h1" stroke="#ccc" stroke-width="1" fill="none" opacity="0.9"/>
<g clip-path="url(#d26_184)"><ellipse cx="72" cy="224.6" rx="11" ry="11" fill="#ddd" opacity="0.7" transform="rotate(0 72 224.6)" filter="url(#b2)"/></g>
<path d="M73 208.5h1m4 0h1m-5 2h1m-12 2h1m8 0h1m5 0h1m0 0h1m-17 1h1m8 0h1m-14 1h1m5 0h1m7 0h1m0 0h1m-10 1h1m2 0h1m0 0h1m1 0h1m2 0h1m1 0h1m1 0h1m1 0h1m-12 1h1m1 0h1m1 0h1m2 0h1m-15 1h1m1 0h1m4 0h1m2 0h1m0 0h1m11 0h1m-22 1h1m4 0h1m0 0h1m0 0h1m0 0h1m0 0h1m0 0h1m4 0h1m-26 1h1m13 0h1m0 0h1m1 0h1m0 0h1m3 0h1m0 0h1m-15 1h1m0 0h1m0 0h1m0 0h1m4 0h1m0 0h1m0 0h1m0 0h1m0 0h1m1 0h1m-15 1h1m4 0h1m0 0h1m0 0h1m0 0h1m0 0h1m0 0h1m0 0h1m0 0h1m0 0h1m1 0h1m1 0h1m1 0h1m-25 1h1m3 0h1m1 0h1m1 0h1m1 0h1m0 0h1m0 0h1m0 0h1m1 0h1m0 0h1m0 0h1m0 0h1m0 0h1m1 0h1m0 0h1m3 0h1m-25 1h1m0 0h1m1 0h1m2 0h1m0 0h1m1 0h1m0 0h1m1 0h1m0 0h1m0 0h1m0 0h1m2 0h1m0 0h1m0 0h1m0 0h1m6 0h1m-33 1h1m1 0h1m1 0h1m2 0h1m0 0h1m0 0h1m0 0h1m1 0h1m1 0h1m1 0h1m0 0h1m0 0h1m0 0h1m0 0h1m0 0h1m0 0h1m1 0h1m2 0h1m-20 1h1m0 0h1m0 0h1m0 0h1m0 0h1m0 0h1m0 0h1m0 0h1m0 0h1m0 0h1m0 0h1m0 0h1m0 0h1m0 0h1m0 0h1m0 0h1m3 0h1m1 0h1m-25 1h1m3 0h1m0 0h1m0 0h1m2 0h1m0 0h1m0 0h1m0 0h1m0 0h1m0 0h1m0 0h1m0 0h1m0 0h1m2 0h1m0 0h1m-22 1h1m1 0h1m1 0h1m0 0h1m0 0h1m1 0h1m1 0h1m0 0h1m0 0h1m0 0h1m1 0h1m1 0h1m0 0h1m0 0h1m-19 1h1m0 0h1m0 0h1m0 0h1m2 0h1m0 0h1m0 0h1m2 0h1m4 0h1m-18 1h1m1 0h1m1 0h1m1 0h1m2 0h1m0 0h1m0 0h1m0 0h1m0 0h1m1 0h1m0 0h1m0 0h1m2 0h1m0 0h1m-19 1h1m1 0h1m0 0h1m3 0h1m0 0h1m0 0h1m0 0h1m0 0h1m0 0h1m0 0h1m-11 1h1m0 0h1m0 0h1m3 0h1m0 0h1m1 0h1m0 0h1m0 0h1m0 0h1m2 0h1m-19 1h1m1 0h1m0 0h1m4 0h1m6 0h1m2 0h1m-22 1h1m1 0h1m1 0h1m0 0h1m3 0h1m1 0h1m0 0h1m0 0h1m1 0h1m-15 1h1m3 0h1m0 0h1m0 0h1m1 0h1m7 0h1m-13 1h1m0 0h1m4 0h1m0 0h1m3 0h1m2 0h1m-21 1h1m6 0h1m1 0h1m0 0h1m0 0h1m0 0h1m0 0h1m-6 1h1m5 0h1m2 1h1m-12 1h1m-1 1h1" stroke="#999" stroke-width="1" fill="none" opacity="0.7"/>
<path d="M74 216.5h1m1 0h1m-11 1h1m-1 1h1m2 0h1m0 0h1m0 0h1m0 0h1m3 0h1m-5 1h1m1 0h1m2 0h1m-14 1h1m1 0h1m2 0h1m5 0h1m0 0h1m-10 1h1m0 0h1m0 0h1m0 0h1m1 0h1m0 0h1m0 0h1m0 0h1m0 0h1m-11 1h1m0 0h1m0 0h1m0 0h1m0 0h1m0 0h1m0 0h1m0 0h1m0 0h1m0 0h1m1 0h1m0 0h1m0 0h1m-16 1h1m1 0h1m1 0h1m0 0h1m0 0h1m0 0h1m0 0h1m0 0h1m1 0h1m0 0h1m2 0h1m-17 1h1m0 0h1m1 0h1m0 0h1m2 0h1m0 0h1m0 0h1m0 0h1m0 0h1m2 0h1m-12 1h1m0 0h1m0 0h1m0 0h1m0 0h1m1 0h1m0 0h1m0 0h1m0 0h1m0 0h1m0 0h1m0 0h1m-13 1h1m1 0h1m0 0h1m0 0h1m0 0h1m0 0h1m0 0h1m0 0h1m0 0h1m-12 1h1m0 0h1m0 0h1m1 0h1m0 0h1m0 0h1m0 0h1m0 0h1m0 0h1m1 0h1m1 0h1m-11 1h1m1 0h1m0 0h1m0 0h1m1 0h1m0 0h1m2 0h1m-11 1h1m1 0h1m0 0h1m2 0h1m0 0h1m-7 1h1m0 0h1m0 0h1m3 0h1m-1 1h1m-9 1h1m9 0h1m-11 1h1m7 2h1" stroke="#666" stroke-width="1" fill="none" opacity="0.6"/>
<g clip-path="url(#d26_184)"><path d="M28 256L45 255L60 253L75 249L78 253L60 259L45 263L28 266z" fill="#858585" opacity="0.9" filter="url(#b1)"/></g>
<g clip-path="url(#d26_184)"><ellipse cx="38" cy="260" rx="8" ry="4.5" fill="#555" opacity="0.8" transform="rotate(-5 38 260)" filter="url(#b1)"/></g>
<path d="M74 246.5h1m-6 1h1m-6 1h1m7 0h1m-8 1h1m2 0h1m1 0h1m1 0h1m-10 1h1m7 0h1m4 0h1m-23 1h1m8 0h1m1 0h1m0 0h1m1 0h1m0 0h1m2 0h1m0 0h1m-21 1h1m0 0h1m0 0h1m0 0h1m2 0h1m0 0h1m1 0h1m3 0h1m0 0h1m1 0h1m1 0h1m0 0h1m-29 1h1m5 0h1m2 0h1m0 0h1m3 0h1m0 0h1m0 0h1m0 0h1m0 0h1m0 0h1m3 0h1m0 0h1m1 0h1m3 0h1m1 0h1m-50 1h1m13 0h1m1 0h1m4 0h1m0 0h1m0 0h1m3 0h1m0 0h1m1 0h1m0 0h1m1 0h1m0 0h1m0 0h1m0 0h1m0 0h1m2 0h1m8 0h1m-45 1h1m0 0h1m1 0h1m0 0h1m1 0h1m1 0h1m2 0h1m1 0h1m4 0h1m0 0h1m0 0h1m0 0h1m2 0h1m0 0h1m0 0h1m0 0h1m0 0h1m0 0h1m0 0h1m1 0h1m0 0h1m3 0h1m0 0h1m-34 1h1m1 0h1m1 0h1m0 0h1m0 0h1m1 0h1m2 0h1m1 0h1m0 0h1m5 0h1m3 0h1m1 0h1m0 0h1m1 0h1m3 0h1m3 0h1m-47 1h1m3 0h1m0 0h1m0 0h1m1 0h1m2 0h1m3 0h1m0 0h1m0 0h1m3 0h1m0 0h1m0 0h1m0 0h1m0 0h1m0 0h1m0 0h1m1 0h1m0 0h1m0 0h1m1 0h1m0 0h1m-36 1h1m1 0h1m0 0h1m1 0h1m0 0h1m1 0h1m3 0h1m0 0h1m0 0h1m2 0h1m1 0h1m0 0h1m0 0h1m0 0h1m0 0h1m1 0h1m5 0h1m2 0h1m-34 1h1m1 0h1m0 0h1m3 0h1m0 0h1m1 0h1m1 0h1m0 0h1m0 0h1m1 0h1m0 0h1m6 0h1m0 0h1m-22 1h1m0 0h1m6 0h1m1 0h1m2 0h1m0 0h1m-18 1h1m0 0h1m2 0h1m0 0h1m3 0h1m0 0h1m1 0h1m-12 1h1m1 0h1m0 0h1m0 0h1m1 0h1m1 0h1m-11 1h1" stroke="#555" stroke-width="1" fill="none" opacity="0.5"/>
<path d="M86 236.5h1m-3 1h1m5 0h1m-4 1h1m-3 1h1m-6 1h1m3 0h1m1 0h1m0 0h1m1 0h1m1 0h1m-8 1h1m0 0h1m-2 1h1m0 0h1m3 0h1m1 0h1m4 0h1m-22 1h1m6 0h1m0 0h1m3 0h1m2 0h1m-14 1h1m3 0h1m1 0h1m0 0h1m0 0h1m0 0h1m4 0h1m-22 1h1m6 0h1m2 0h1m3 0h1m2 0h1m-15 1h1m5 0h1m6 0h1m-13 1h1m3 0h1m2 0h1m0 0h1m0 0h1m2 0h1m-15 1h1m1 0h1m0 0h1m3 0h1m0 0h1m1 0h1m2 0h1m-19 1h1m4 0h1m1 0h1m1 0h1m1 0h1m1 0h1m1 0h1m2 0h1m-12 1h1m3 0h1m0 0h1m1 0h1m-10 1h1m1 0h1m0 0h1m0 0h1m0 0h1m1 0h1m0 0h1m0 0h1m1 0h1m-14 1h1m0 0h1m0 0h1m0 0h1m1 0h1m0 0h1m1 0h1m-9 1h1m1 0h1m7 0h1m-13 1h1m0 0h1m-1 2h1m2 0h1m3 0h1" stroke="#999" stroke-width="1" fill="none" opacity="0.7"/>
<g clip-path="url(#d26_184)"><ellipse cx="32.3" cy="261.5" rx="2.2" ry="3.2" fill="#000" opacity="1" transform="rotate(10 32.3 261.5)" filter="url(#b0)"/></g>
<rect x="26.5" y="184.5" width="81" height="81" fill="none" stroke="#999" stroke-width="1"/>
<path d="M24 266.5L26 266.5" stroke="#666" stroke-width="0.8" fill="none"/>
<text x="22.5" y="268.016" font-size="5.6" font-weight="normal" fill="#111" stroke="#111" stroke-width="0.25" text-anchor="end">0</text>
<path d="M26.5 266L26.5 268" stroke="#666" stroke-width="0.8" fill="none"/>
<text x="26.0" y="273.8" font-size="5.6" font-weight="normal" fill="#111" stroke="#111" stroke-width="0.25" text-anchor="middle">0</text>
<path d="M24 246.5L26 246.5" stroke="#666" stroke-width="0.8" fill="none"/>
<text x="22.5" y="247.516" font-size="5.6" font-weight="normal" fill="#111" stroke="#111" stroke-width="0.25" text-anchor="end">64</text>
<path d="M46.5 266L46.5 268" stroke="#666" stroke-width="0.8" fill="none"/>
<text x="46.5" y="273.8" font-size="5.6" font-weight="normal" fill="#111" stroke="#111" stroke-width="0.25" text-anchor="middle">64</text>
<path d="M24 225.5L26 225.5" stroke="#666" stroke-width="0.8" fill="none"/>
<text x="22.5" y="227.016" font-size="5.6" font-weight="normal" fill="#111" stroke="#111" stroke-width="0.25" text-anchor="end">128</text>
<path d="M67.5 266L67.5 268" stroke="#666" stroke-width="0.8" fill="none"/>
<text x="67.0" y="273.8" font-size="5.6" font-weight="normal" fill="#111" stroke="#111" stroke-width="0.25" text-anchor="middle">128</text>
<path d="M24 204.5L26 204.5" stroke="#666" stroke-width="0.8" fill="none"/>
<text x="22.5" y="206.516" font-size="5.6" font-weight="normal" fill="#111" stroke="#111" stroke-width="0.25" text-anchor="end">192</text>
<path d="M88.5 266L88.5 268" stroke="#666" stroke-width="0.8" fill="none"/>
<text x="87.5" y="273.8" font-size="5.6" font-weight="normal" fill="#111" stroke="#111" stroke-width="0.25" text-anchor="middle">192</text>
<path d="M24 184.5L26 184.5" stroke="#666" stroke-width="0.8" fill="none"/>
<text x="22.5" y="186.016" font-size="5.6" font-weight="normal" fill="#111" stroke="#111" stroke-width="0.25" text-anchor="end">256</text>
<path d="M108.5 266L108.5 268" stroke="#666" stroke-width="0.8" fill="none"/>
<text x="108.0" y="273.8" font-size="5.6" font-weight="normal" fill="#111" stroke="#111" stroke-width="0.25" text-anchor="middle">256</text>
<ellipse cx="72" cy="224.6" rx="13.8" ry="13.2" fill="none" stroke="#444" stroke-width="1"/>
<text x="58.5" y="216" font-size="3.5" font-weight="normal" fill="#555">R1</text>
<path d="M112.5 181L112.5 267" stroke="#e4e4e4" stroke-width="1" fill="none"/>
<text x="55.1" y="285.5" font-size="7.5" font-weight="bold" fill="#000" stroke="#000" stroke-width="0.38" textLength="24.8" lengthAdjust="spacingAndGlyphs">FSC-H</text>
<text x="8.3" y="225.65" font-size="7.3" font-weight="bold" fill="#000" stroke="#000" stroke-width="0.36" text-anchor="middle" textLength="23.88" lengthAdjust="spacingAndGlyphs" transform="rotate(-90 8.3 225.65)">SSC-H</text>
<path d="M86 215.8L141.5 197.3" stroke="#444" stroke-width="0.9" fill="none"/>
<path d="M143 196.8L137.3 196.5L138.8 201z" fill="#444"/>
<path d="M181.5 157L181.5 277.5" stroke="#222" stroke-width="1" fill="none"/>
<path d="M178.5 277.5L181.5 277.5" stroke="#222" stroke-width="1" fill="none"/>
<text x="167.36" y="280.1" font-size="8.6" font-weight="bold" fill="#000" stroke="#000" stroke-width="0.43" textLength="5.69" lengthAdjust="spacingAndGlyphs">0</text>
<path d="M178.5 260.5L181.5 260.5" stroke="#222" stroke-width="1" fill="none"/>
<text x="162.36" y="263.1" font-size="8.6" font-weight="bold" fill="#000" stroke="#000" stroke-width="0.43" textLength="10.69" lengthAdjust="spacingAndGlyphs">10</text>
<path d="M178.5 243.5L181.5 243.5" stroke="#222" stroke-width="1" fill="none"/>
<text x="162.36" y="246.1" font-size="8.6" font-weight="bold" fill="#000" stroke="#000" stroke-width="0.43" textLength="10.69" lengthAdjust="spacingAndGlyphs">20</text>
<path d="M178.5 226.5L181.5 226.5" stroke="#222" stroke-width="1" fill="none"/>
<text x="162.36" y="229.1" font-size="8.6" font-weight="bold" fill="#000" stroke="#000" stroke-width="0.43" textLength="10.69" lengthAdjust="spacingAndGlyphs">30</text>
<path d="M178.5 208.5L181.5 208.5" stroke="#222" stroke-width="1" fill="none"/>
<text x="162.36" y="211.1" font-size="8.6" font-weight="bold" fill="#000" stroke="#000" stroke-width="0.43" textLength="10.69" lengthAdjust="spacingAndGlyphs">40</text>
<path d="M178.5 191.5L181.5 191.5" stroke="#222" stroke-width="1" fill="none"/>
<text x="162.36" y="194.1" font-size="8.6" font-weight="bold" fill="#000" stroke="#000" stroke-width="0.43" textLength="10.69" lengthAdjust="spacingAndGlyphs">50</text>
<path d="M178.5 174.5L181.5 174.5" stroke="#222" stroke-width="1" fill="none"/>
<text x="162.36" y="177.1" font-size="8.6" font-weight="bold" fill="#000" stroke="#000" stroke-width="0.43" textLength="10.69" lengthAdjust="spacingAndGlyphs">60</text>
<path d="M178.5 157.5L181.5 157.5" stroke="#222" stroke-width="1" fill="none"/>
<text x="162.36" y="160.1" font-size="8.6" font-weight="bold" fill="#000" stroke="#000" stroke-width="0.43" textLength="10.69" lengthAdjust="spacingAndGlyphs">70</text>
<text x="157.6" y="219.45" font-size="9.4" font-weight="bold" fill="#000" stroke="#000" stroke-width="0.45" text-anchor="middle" textLength="123.45" lengthAdjust="spacingAndGlyphs" transform="rotate(-90 157.6 219.45)">% CD41,Ly6G aggregates</text>
<path d="M207.5 255.57142857142858L207.5 244.42857142857144" stroke="#555" stroke-width="1" fill="none"/>
<path d="M206.0 244.92857142857144L209.0 244.92857142857144" stroke="#555" stroke-width="1" fill="none"/>
<rect x="198.0" y="256.07142857142856" width="19.0" height="20.928571428571416" fill="#999" stroke="#333" stroke-width="1"/>
<path d="M228.25 204.48571428571427L228.25 178.0857142857143" stroke="#555" stroke-width="1" fill="none"/>
<path d="M226.75 178.5857142857143L229.75 178.5857142857143" stroke="#555" stroke-width="1" fill="none"/>
<rect x="218.0" y="204.98571428571427" width="20.5" height="72.01428571428573" fill="#fff" stroke="#333" stroke-width="1"/>
<path d="M279.5 247.5142857142857L279.5 239.45714285714286" stroke="#555" stroke-width="1" fill="none"/>
<path d="M278.0 239.95714285714286L281.0 239.95714285714286" stroke="#555" stroke-width="1" fill="none"/>
<rect x="269.5" y="248.0142857142857" width="20" height="28.985714285714295" fill="#999" stroke="#333" stroke-width="1"/>
<path d="M300.25 244.42857142857144L300.25 238.0857142857143" stroke="#555" stroke-width="1" fill="none"/>
<path d="M298.75 238.5857142857143L301.75 238.5857142857143" stroke="#555" stroke-width="1" fill="none"/>
<rect x="290.5" y="244.92857142857144" width="19.5" height="32.071428571428555" fill="#fff" stroke="#333" stroke-width="1"/>
<path d="M181 277.5L326 277.5" stroke="#000" stroke-width="1" fill="none"/>
<path d="M254.5 277L254.5 280" stroke="#000" stroke-width="1" fill="none"/>
<path d="M325.5 277L325.5 280" stroke="#000" stroke-width="1" fill="none"/>
<path d="M203.5 240V197.5H225" stroke="#999" stroke-width="1" fill="none"/>
<text x="193.48" y="188.4" font-size="8.0" font-weight="bold" fill="#000" stroke="#000" stroke-width="0.4" textLength="31.94" lengthAdjust="spacingAndGlyphs">p=0.015</text>
<rect x="191.7" y="165.7" width="4.6" height="4.6" fill="#999" stroke="#555" stroke-width="1"/>
<text x="199.75" y="170.8" font-size="8.8" font-weight="bold" fill="#000" stroke="#000" stroke-width="0.44" textLength="27.8" lengthAdjust="spacingAndGlyphs">Saline</text>
<rect x="243.4" y="165.4" width="4.6" height="4.6" fill="#fff" stroke="#555" stroke-width="1"/>
<text x="251.16" y="170.7" font-size="8.6" font-weight="bold" fill="#000" stroke="#000" stroke-width="0.43" textLength="46.89" lengthAdjust="spacingAndGlyphs">Loxoribine</text>
<text x="210.44" y="293.8" font-size="9.0" font-weight="bold" fill="#000" stroke="#000" stroke-width="0.45" textLength="15.42" lengthAdjust="spacingAndGlyphs">WT</text>
<text x="274.05" y="292" font-size="8.8" font-weight="bold" fill="#000" stroke="#000" stroke-width="0.44" font-style="italic" textLength="37.6" lengthAdjust="spacingAndGlyphs">TLR7KO</text>
<text x="0.64" y="322.8" font-size="14" font-weight="bold" fill="#000" stroke="#000" stroke-width="0.3" textLength="10.12" lengthAdjust="spacingAndGlyphs">C</text>
<text x="43.67" y="319.8" font-size="8.3" font-weight="bold" fill="#000" stroke="#000" stroke-width="0.42" textLength="32.66" lengthAdjust="spacingAndGlyphs">Isotype</text>
<text x="164.47" y="319.2" font-size="8.3" font-weight="bold" fill="#000" stroke="#000" stroke-width="0.42" textLength="50.06" lengthAdjust="spacingAndGlyphs">WT+Control</text>
<text x="264.17" y="319.2" font-size="8.3" font-weight="bold" fill="#000" stroke="#000" stroke-width="0.42" textLength="43.66" lengthAdjust="spacingAndGlyphs">WT+EMCV</text>
<text x="348.67" y="319.2" font-size="8.3" font-weight="bold" fill="#000" stroke="#000" stroke-width="0.45" textLength="68.66" lengthAdjust="spacingAndGlyphs"><tspan font-style="italic">TLR7KO</tspan>+Control</text>
<text x="443.67" y="319.2" font-size="8.3" font-weight="bold" fill="#000" stroke="#000" stroke-width="0.45" textLength="62.66" lengthAdjust="spacingAndGlyphs"><tspan font-style="italic">TLR7KO</tspan>+EMCV</text>
<clipPath id="c29_329"><rect x="29" y="329" width="66" height="71"/></clipPath>
<g clip-path="url(#c29_329)"><path d="M25 388L40 382.2L46.5 380.5L45 389.6L41.5 404L25 404z" fill="#5a5a5a" opacity="0.95" filter="url(#b0_7)"/></g>
<path d="M34 383.5h1m2 0h1m-4 1h1m0 0h1m7 0h1m0 0h1m3 0h1m-17 1h1m-2 1h1m2 0h1m0 0h1m3 0h1m1 0h1m-9 1h1m5 0h1m0 0h1m0 0h1m0 0h1m-12 1h1m2 0h1m0 0h1m2 0h1m2 0h1m1 0h1m0 0h1m1 0h1m-16 1h1m2 0h1m0 0h1m0 0h1m0 0h1m0 0h1m0 0h1m0 0h1m-8 1h1m0 0h1m0 0h1m0 0h1m0 0h1m0 0h1m1 0h1m1 0h1m2 0h1m-15 1h1m0 0h1m0 0h1m0 0h1m0 0h1m0 0h1m1 0h1m2 0h1m1 0h1m1 0h1m-16 1h1m1 0h1m0 0h1m0 0h1m0 0h1m0 0h1m0 0h1m1 0h1m0 0h1m2 0h1m3 0h1m-18 1h1m2 0h1m1 0h1m0 0h1m0 0h1m1 0h1m0 0h1m0 0h1m1 0h1m0 0h1m-14 1h1m0 0h1m0 0h1m0 0h1m0 0h1m4 0h1m0 0h1m0 0h1m0 0h1m4 0h1m-18 1h1m0 0h1m0 0h1m0 0h1m0 0h1m0 0h1m1 0h1m1 0h1m0 0h1m0 0h1m0 0h1m-14 1h1m1 0h1m1 0h1m0 0h1m0 0h1m0 0h1m4 0h1m-10 1h1m0 0h1m1 0h1m1 0h1m0 0h1m1 0h1m0 0h1m0 0h1m0 0h1m4 0h1m-20 1h1m0 0h1m1 0h1m0 0h1m2 0h1m0 0h1m0 0h1m0 0h1m4 0h1m-16 1h1m4 0h1m1 0h1m0 0h1m2 0h1m0 0h1" stroke="#444" stroke-width="1" fill="none" opacity="0.6"/>
<path d="M54 367.5h1m-1 1h1m0 0h1m0 0h1m0 1h1m0 0h1m-7 2h1m3 0h1m-3 1h1m0 0h1m-1 1h1m-5 1h1m0 0h1m-3 2h1m0 0h1m0 0h1m-3 1h1m-2 1h1m-2 1h1m-2 1h1m-1 2h1m1 1h1" stroke="#aaa" stroke-width="1" fill="none" opacity="0.9"/>
<path d="M57 385.5h1m-4 1h1m-7 2h1m2 3h1m-4 2h1m9 1h1m-1 3h1m0 0h1" stroke="#bbb" stroke-width="1" fill="none" opacity="0.9"/>
<rect x="29.5" y="329.5" width="65" height="70" fill="none" stroke="#707070" stroke-width="1"/>
<path d="M46.5 330L46.5 399" stroke="#888" stroke-width="1.2" fill="none"/>
<path d="M30 382.5L94 382.5" stroke="#888" stroke-width="1.2" fill="none"/>
<path d="M26.5 400.5L29 400.5" stroke="#666" stroke-width="0.9" fill="none"/>
<path d="M29.5 400L29.5 402.5" stroke="#666" stroke-width="0.9" fill="none"/>
<path d="M26.5 382.5L29 382.5" stroke="#666" stroke-width="0.9" fill="none"/>
<path d="M46.5 400L46.5 402.5" stroke="#666" stroke-width="0.9" fill="none"/>
<path d="M26.5 364.5L29 364.5" stroke="#666" stroke-width="0.9" fill="none"/>
<path d="M62.5 400L62.5 402.5" stroke="#666" stroke-width="0.9" fill="none"/>
<path d="M26.5 347.5L29 347.5" stroke="#666" stroke-width="0.9" fill="none"/>
<path d="M78.5 400L78.5 402.5" stroke="#666" stroke-width="0.9" fill="none"/>
<path d="M26.5 329.5L29 329.5" stroke="#666" stroke-width="0.9" fill="none"/>
<path d="M95.5 400L95.5 402.5" stroke="#666" stroke-width="0.9" fill="none"/>
<text x="27.4" y="402.448" font-size="6.8" font-weight="normal" fill="#222" text-anchor="end" stroke="#222" stroke-width="0.2">10<tspan font-size="4.49" dy="-2.24">0</tspan></text>
<text x="32.4" y="410.5" font-size="6.8" font-weight="normal" fill="#222" text-anchor="end" stroke="#222" stroke-width="0.2">10<tspan font-size="4.49" dy="-2.24">0</tspan></text>
<text x="27.4" y="384.698" font-size="6.8" font-weight="normal" fill="#222" text-anchor="end" stroke="#222" stroke-width="0.2">10<tspan font-size="4.49" dy="-2.24">1</tspan></text>
<text x="48.9" y="410.5" font-size="6.8" font-weight="normal" fill="#222" text-anchor="end" stroke="#222" stroke-width="0.2">10<tspan font-size="4.49" dy="-2.24">1</tspan></text>
<text x="27.4" y="366.948" font-size="6.8" font-weight="normal" fill="#222" text-anchor="end" stroke="#222" stroke-width="0.2">10<tspan font-size="4.49" dy="-2.24">2</tspan></text>
<text x="65.4" y="410.5" font-size="6.8" font-weight="normal" fill="#222" text-anchor="end" stroke="#222" stroke-width="0.2">10<tspan font-size="4.49" dy="-2.24">2</tspan></text>
<text x="27.4" y="349.198" font-size="6.8" font-weight="normal" fill="#222" text-anchor="end" stroke="#222" stroke-width="0.2">10<tspan font-size="4.49" dy="-2.24">3</tspan></text>
<text x="81.9" y="410.5" font-size="6.8" font-weight="normal" fill="#222" text-anchor="end" stroke="#222" stroke-width="0.2">10<tspan font-size="4.49" dy="-2.24">3</tspan></text>
<text x="27.4" y="331.448" font-size="6.8" font-weight="normal" fill="#222" text-anchor="end" stroke="#222" stroke-width="0.2">10<tspan font-size="4.49" dy="-2.24">4</tspan></text>
<text x="98.4" y="410.5" font-size="6.8" font-weight="normal" fill="#222" text-anchor="end" stroke="#222" stroke-width="0.2">10<tspan font-size="4.49" dy="-2.24">4</tspan></text>
<text x="30.3" y="335.4" font-size="5" font-weight="normal" fill="#666">R1</text>
<text x="63.3" y="335.4" font-size="5" font-weight="normal" fill="#666">R2</text>
<text x="69.9" y="396.4" font-size="5" font-weight="normal" fill="#666">R4</text>
<rect x="29" y="329" width="2" height="2" fill="#000" stroke="none" stroke-width="1"/>
<rect x="45" y="380.5" width="2.5" height="2.5" fill="#000" stroke="none" stroke-width="1"/>
<text x="14.6" y="362.6" font-size="6.7" font-weight="bold" fill="#000" stroke="#000" stroke-width="0.34" text-anchor="middle" textLength="64.54" lengthAdjust="spacingAndGlyphs" transform="rotate(-90 14.6 362.6)">Rat IgG2b K PE-Cy7</text>
<text x="38.74" y="418" font-size="6.4" font-weight="bold" fill="#000" stroke="#000" stroke-width="0.32" textLength="44.01" lengthAdjust="spacingAndGlyphs">Rat IgG1 K FITC</text>
<clipPath id="c155_331"><rect x="155" y="331" width="69" height="70"/></clipPath>
<g clip-path="url(#c155_331)"><path d="M151 385L171 384L180 386L182 395L178 405L151 405z" fill="#8a8a8a" opacity="0.95" filter="url(#b1_5)"/></g>
<g clip-path="url(#c155_331)"><path d="M151 385L171 384.5L171 405L151 405z" fill="#6a6a6a" opacity="0.9" filter="url(#b1)"/></g>
<path d="M165 383.5h1m-7 1h1m-3 2h1m2 0h1m2 0h1m0 0h1m0 0h1m3 0h1m1 0h1m1 0h1m-16 1h1m4 0h1m1 0h1m0 0h1m-8 1h1m5 0h1m-8 1h1m4 0h1m1 0h1m3 0h1m0 0h1m0 0h1m-15 1h1m4 0h1m1 0h1m1 0h1m1 0h1m1 0h1m6 0h1m-21 1h1m1 0h1m0 0h1m0 0h1m0 0h1m3 0h1m1 0h1m1 0h1m1 0h1m-15 1h1m0 0h1m1 0h1m2 0h1m1 0h1m2 0h1m0 0h1m1 0h1m0 0h1m-18 1h1m1 0h1m0 0h1m5 0h1m2 0h1m0 0h1m0 0h1m0 0h1m0 0h1m0 0h1m-17 1h1m0 0h1m0 0h1m0 0h1m4 0h1m0 0h1m0 0h1m1 0h1m1 0h1m0 0h1m1 0h1m-19 1h1m0 0h1m2 0h1m1 0h1m1 0h1m0 0h1m0 0h1m0 0h1m0 0h1m3 0h1m1 0h1m2 0h1m1 0h1m-23 1h1m4 0h1m0 0h1m0 0h1m3 0h1m0 0h1m2 0h1m0 0h1m-14 1h1m2 0h1m1 0h1m2 0h1m1 0h1m-14 1h1m1 0h1m1 0h1m4 0h1m1 0h1m5 0h1m-4 1h1m11 0h1m-24 1h1m6 0h1m1 0h1" stroke="#555" stroke-width="1" fill="none" opacity="0.5"/>
<g clip-path="url(#c155_331)"><ellipse cx="166" cy="368" rx="9.5" ry="6" fill="#999" opacity="0.9" transform="rotate(0 166 368)" filter="url(#b1_5)"/></g>
<path d="M165 356.5h1m5 2h1m-7 1h1m6 0h1m-11 1h1m4 0h1m5 0h1m4 0h1m-23 1h1m8 0h1m1 0h1m1 0h1m-13 1h1m2 0h1m2 0h1m1 0h1m0 0h1m4 0h1m8 0h1m-23 1h1m2 0h1m0 0h1m0 0h1m0 0h1m0 0h1m0 0h1m0 0h1m1 0h1m2 0h1m-16 1h1m3 0h1m0 0h1m0 0h1m1 0h1m1 0h1m0 0h1m1 0h1m1 0h1m1 0h1m-14 1h1m0 0h1m0 0h1m2 0h1m0 0h1m3 0h1m0 0h1m-16 1h1m0 0h1m0 0h1m0 0h1m0 0h1m0 0h1m0 0h1m0 0h1m1 0h1m1 0h1m0 0h1m2 0h1m1 0h1m0 0h1m1 0h1m-22 1h1m0 0h1m0 0h1m2 0h1m0 0h1m0 0h1m0 0h1m0 0h1m0 0h1m0 0h1m1 0h1m0 0h1m0 0h1m1 0h1m0 0h1m0 0h1m0 0h1m5 0h1m-27 1h1m0 0h1m0 0h1m1 0h1m0 0h1m0 0h1m0 0h1m1 0h1m1 0h1m0 0h1m0 0h1m0 0h1m1 0h1m1 0h1m-16 1h1m0 0h1m1 0h1m0 0h1m0 0h1m0 0h1m0 0h1m0 0h1m0 0h1m0 0h1m0 0h1m0 0h1m1 0h1m6 0h1m5 0h1m-30 1h1m0 0h1m1 0h1m0 0h1m1 0h1m0 0h1m2 0h1m0 0h1m1 0h1m0 0h1m0 0h1m0 0h1m5 0h1m2 0h1m-23 1h1m2 0h1m1 0h1m1 0h1m2 0h1m0 0h1m5 0h1m1 0h1m-18 1h1m2 0h1m0 0h1m0 0h1m1 0h1m2 0h1m1 0h1m2 0h1m-16 1h1m1 0h1m0 0h1m0 0h1m4 0h1m-12 1h1m2 0h1m0 0h1m13 0h1m-16 1h1m8 1h1m1 0h1m-11 2h1m-7 1h1" stroke="#666" stroke-width="1" fill="none" opacity="0.55"/>
<path d="M173 361.5h1m3 4h1m0 0h1m0 0h1m-6 1h1m14 1h1m-19 1h1m6 0h1m0 0h1m-6 1h1m7 0h1m-11 1h1m2 0h1m1 0h1m0 0h1m0 0h1m-5 1h1m1 0h1m2 0h1m1 0h1m1 0h1m-14 1h1m6 0h1m4 0h1m-9 1h1m0 0h1m0 0h1m0 0h1m-8 1h1m6 0h1m-5 1h1m0 0h1m1 0h1m3 1h1m-1 2h1" stroke="#999" stroke-width="1" fill="none" opacity="0.8"/>
<path d="M158 369.5h1m4 2h1m-5 1h1m0 0h1m-5 1h1m3 0h1m2 0h1m0 0h1m2 0h1m-7 1h1m0 0h1m1 0h1m1 0h1m-4 1h1m-7 1h1m0 0h1m3 0h1m4 0h1m2 0h1m-7 1h1m1 0h1m1 0h1m1 0h1m-5 1h1m1 0h1m-2 1h1m0 0h1m3 0h1m-5 2h1m-3 1h1m1 0h1m5 0h1m-8 1h1m2 0h1m-7 1h1m3 0h1m1 0h1m2 1h1m-9 1h1" stroke="#999" stroke-width="1" fill="none" opacity="0.8"/>
<path d="M190 346.5h1m21 3h1m-37 6h1m34 2h1m-4 7h1m-8 2h1m-25 4h1m23 2h1" stroke="#bbb" stroke-width="1" fill="none" opacity="0.9"/>
<ellipse cx="157.5" cy="389" rx="4" ry="2.2" fill="none" stroke="#aaa" stroke-width="0.9" transform="rotate(-60 157.5 389)"/>
<rect x="155.5" y="331.5" width="68" height="69" fill="none" stroke="#555" stroke-width="1"/>
<path d="M171.5 332L171.5 400" stroke="#444" stroke-width="1.1" fill="none"/>
<path d="M156 384.5L223 384.5" stroke="#444" stroke-width="1.1" fill="none"/>
<path d="M152.5 401.5L155 401.5" stroke="#666" stroke-width="0.9" fill="none"/>
<path d="M155.5 401L155.5 403.5" stroke="#666" stroke-width="0.9" fill="none"/>
<path d="M152.5 384.5L155 384.5" stroke="#666" stroke-width="0.9" fill="none"/>
<path d="M172.5 401L172.5 403.5" stroke="#666" stroke-width="0.9" fill="none"/>
<path d="M152.5 366.5L155 366.5" stroke="#666" stroke-width="0.9" fill="none"/>
<path d="M190.5 401L190.5 403.5" stroke="#666" stroke-width="0.9" fill="none"/>
<path d="M152.5 348.5L155 348.5" stroke="#666" stroke-width="0.9" fill="none"/>
<path d="M207.5 401L207.5 403.5" stroke="#666" stroke-width="0.9" fill="none"/>
<path d="M152.5 331.5L155 331.5" stroke="#666" stroke-width="0.9" fill="none"/>
<path d="M224.5 401L224.5 403.5" stroke="#666" stroke-width="0.9" fill="none"/>
<text x="150.5" y="403.52" font-size="7" font-weight="normal" fill="#111" text-anchor="end" stroke="#111" stroke-width="0.25">10<tspan font-size="4.62" dy="-2.31">0</tspan></text>
<text x="155.5" y="411" font-size="7" font-weight="normal" fill="#111" text-anchor="end" stroke="#111" stroke-width="0.25">10<tspan font-size="4.62" dy="-2.31">0</tspan></text>
<text x="150.5" y="386.02" font-size="7" font-weight="normal" fill="#111" text-anchor="end" stroke="#111" stroke-width="0.25">10<tspan font-size="4.62" dy="-2.31">1</tspan></text>
<text x="172.75" y="411" font-size="7" font-weight="normal" fill="#111" text-anchor="end" stroke="#111" stroke-width="0.25">10<tspan font-size="4.62" dy="-2.31">1</tspan></text>
<text x="150.5" y="368.52" font-size="7" font-weight="normal" fill="#111" text-anchor="end" stroke="#111" stroke-width="0.25">10<tspan font-size="4.62" dy="-2.31">2</tspan></text>
<text x="190.0" y="411" font-size="7" font-weight="normal" fill="#111" text-anchor="end" stroke="#111" stroke-width="0.25">10<tspan font-size="4.62" dy="-2.31">2</tspan></text>
<text x="150.5" y="351.02" font-size="7" font-weight="normal" fill="#111" text-anchor="end" stroke="#111" stroke-width="0.25">10<tspan font-size="4.62" dy="-2.31">3</tspan></text>
<text x="207.25" y="411" font-size="7" font-weight="normal" fill="#111" text-anchor="end" stroke="#111" stroke-width="0.25">10<tspan font-size="4.62" dy="-2.31">3</tspan></text>
<text x="150.5" y="333.52" font-size="7" font-weight="normal" fill="#111" text-anchor="end" stroke="#111" stroke-width="0.25">10<tspan font-size="4.62" dy="-2.31">4</tspan></text>
<text x="224.5" y="411" font-size="7" font-weight="normal" fill="#111" text-anchor="end" stroke="#111" stroke-width="0.25">10<tspan font-size="4.62" dy="-2.31">4</tspan></text>
<text x="155.0" y="337.3" font-size="5.8" font-weight="normal" fill="#444">R1</text>
<text x="189.5" y="337.3" font-size="5.8" font-weight="normal" fill="#444">R2</text>
<text x="162.9" y="398.2" font-size="5.8" font-weight="normal" fill="#444">R3</text>
<text x="197.8" y="398.2" font-size="5.8" font-weight="normal" fill="#444">R4</text>
<rect x="155" y="331" width="2" height="2" fill="#000" stroke="none" stroke-width="1"/>
<rect x="170" y="382.5" width="2.5" height="2.5" fill="#000" stroke="none" stroke-width="1"/>
<text x="135.9" y="367.5" font-size="7" font-weight="bold" fill="#000" stroke="#000" stroke-width="0.35" text-anchor="middle" textLength="19.26" lengthAdjust="spacingAndGlyphs" transform="rotate(-90 135.9 367.5)">Ly6G</text>
<text x="180.74" y="424" font-size="6.6" font-weight="bold" fill="#000" stroke="#000" stroke-width="0.33" textLength="19.03" lengthAdjust="spacingAndGlyphs">CD41</text>
<clipPath id="c252_330"><rect x="252" y="330" width="69" height="72"/></clipPath>
<g clip-path="url(#c252_330)"><path d="M248 386L283 385L270 406L248 406z" fill="#777" opacity="0.95" filter="url(#b1_5)"/></g>
<g clip-path="url(#c252_330)"><path d="M248 385.5L267 385.5L267 406L248 406z" fill="#666" opacity="0.8" filter="url(#b1)"/></g>
<g clip-path="url(#c252_330)"><ellipse cx="263" cy="367" rx="10" ry="6.5" fill="#999" opacity="0.9" transform="rotate(0 263 367)" filter="url(#b1_5)"/></g>
<path d="M258 353.5h1m9 3h1m-9 2h1m3 0h1m-8 1h1m2 0h1m0 0h1m0 0h1m1 0h1m3 0h1m5 0h1m4 0h1m-8 1h1m-19 1h1m0 0h1m2 0h1m3 0h1m6 0h1m1 0h1m0 0h1m-19 1h1m0 0h1m2 0h1m0 0h1m0 0h1m0 0h1m3 0h1m0 0h1m0 0h1m2 0h1m3 0h1m0 0h1m3 0h1m-25 1h1m1 0h1m2 0h1m0 0h1m2 0h1m0 0h1m0 0h1m0 0h1m0 0h1m2 0h1m3 0h1m-23 1h1m4 0h1m0 0h1m2 0h1m0 0h1m0 0h1m2 0h1m0 0h1m0 0h1m0 0h1m0 0h1m0 0h1m-20 1h1m1 0h1m0 0h1m0 0h1m0 0h1m2 0h1m1 0h1m0 0h1m0 0h1m2 0h1m0 0h1m0 0h1m1 0h1m-16 1h1m0 0h1m0 0h1m0 0h1m0 0h1m1 0h1m0 0h1m1 0h1m0 0h1m4 0h1m0 0h1m0 0h1m-22 1h1m0 0h1m1 0h1m1 0h1m0 0h1m0 0h1m0 0h1m0 0h1m0 0h1m0 0h1m0 0h1m0 0h1m0 0h1m0 0h1m2 0h1m3 0h1m0 0h1m-21 1h1m1 0h1m0 0h1m0 0h1m0 0h1m0 0h1m0 0h1m0 0h1m0 0h1m0 0h1m0 0h1m5 0h1m0 0h1m2 0h1m-23 1h1m2 0h1m1 0h1m1 0h1m0 0h1m0 0h1m1 0h1m0 0h1m0 0h1m4 0h1m0 0h1m2 0h1m-25 1h1m0 0h1m0 0h1m1 0h1m0 0h1m0 0h1m0 0h1m1 0h1m1 0h1m0 0h1m1 0h1m0 0h1m0 0h1m0 0h1m0 0h1m-17 1h1m0 0h1m0 0h1m0 0h1m1 0h1m1 0h1m0 0h1m3 0h1m0 0h1m1 0h1m4 0h1m-21 1h1m1 0h1m3 0h1m0 0h1m0 0h1m0 0h1m0 0h1m0 0h1m1 0h1m0 0h1m0 0h1m2 0h1m3 0h1m-18 1h1m0 0h1m3 0h1m1 0h1m0 0h1m9 0h1m-26 1h1m2 0h1m4 0h1m1 0h1m2 0h1m1 0h1m0 0h1m2 0h1m-17 1h1m13 0h1m-7 2h1m-2 1h1m5 0h1" stroke="#666" stroke-width="1" fill="none" opacity="0.55"/>
<path d="M263 364.5h1m-2 1h1m-1 1h1m0 1h1m-6 2h1m4 0h1m0 2h1m-2 2h1m4 0h1m-7 1h1m3 0h1m0 0h1m1 0h1m-8 1h1m0 0h1m1 0h1m1 0h1m0 0h1m0 0h1m-9 1h1m0 0h1m3 0h1m5 0h1m-11 1h1m-7 1h1m1 0h1m5 1h1m0 0h1m1 0h1m2 0h1m3 0h1m-18 1h1m0 0h1m1 0h1m3 0h1m0 0h1m0 0h1m1 0h1m0 0h1m-3 1h1m1 0h1m8 0h1m-18 1h1m3 0h1m1 0h1m3 0h1m3 0h1m-9 1h1m0 0h1m1 0h1m12 0h1m-19 2h1m2 0h1m7 0h1m-1 1h1m-13 1h1m3 0h1m0 1h1" stroke="#aaa" stroke-width="1" fill="none" opacity="0.8"/>
<path d="M286 371.5h1m0 0h1m0 0h1m-8 1h1m9 0h1m-10 1h1m1 0h1m0 0h1m-3 1h1m-6 1h1m0 0h1m0 0h1m-11 1h1m10 1h1m0 0h1m7 0h1m-14 1h1m6 0h1m-18 1h1m7 0h1m3 0h1m-10 1h1m2 0h1m-3 1h1m5 0h1m2 0h1m-13 1h1m1 0h1m0 0h1m-1 1h1m3 0h1m-9 1h1m2 0h1m-2 1h1m9 0h1m-8 1h1" stroke="#999" stroke-width="1" fill="none" opacity="0.8"/>
<path d="M307 349.5h1m-32 4h1m16 2h1m7 5h1m-8 9h1m11 6h1m1 1h1m-24 2h1" stroke="#bbb" stroke-width="1" fill="none" opacity="0.9"/>
<ellipse cx="255.8" cy="390.7" rx="4.5" ry="2.5" fill="none" stroke="#aaa" stroke-width="0.9" transform="rotate(-60 255.8 390.7)"/>
<rect x="252.5" y="330.5" width="68" height="71" fill="none" stroke="#555" stroke-width="1"/>
<path d="M267.5 331L267.5 401" stroke="#444" stroke-width="1.1" fill="none"/>
<path d="M253 385.5L320 385.5" stroke="#444" stroke-width="1.1" fill="none"/>
<path d="M249.5 402.5L252 402.5" stroke="#666" stroke-width="0.9" fill="none"/>
<path d="M252.5 402L252.5 404.5" stroke="#666" stroke-width="0.9" fill="none"/>
<path d="M249.5 384.5L252 384.5" stroke="#666" stroke-width="0.9" fill="none"/>
<path d="M269.5 402L269.5 404.5" stroke="#666" stroke-width="0.9" fill="none"/>
<path d="M249.5 366.5L252 366.5" stroke="#666" stroke-width="0.9" fill="none"/>
<path d="M286.5 402L286.5 404.5" stroke="#666" stroke-width="0.9" fill="none"/>
<path d="M249.5 348.5L252 348.5" stroke="#666" stroke-width="0.9" fill="none"/>
<path d="M304.5 402L304.5 404.5" stroke="#666" stroke-width="0.9" fill="none"/>
<path d="M249.5 330.5L252 330.5" stroke="#666" stroke-width="0.9" fill="none"/>
<path d="M321.5 402L321.5 404.5" stroke="#666" stroke-width="0.9" fill="none"/>
<text x="247.5" y="404.52" font-size="7" font-weight="normal" fill="#111" text-anchor="end" stroke="#111" stroke-width="0.25">10<tspan font-size="4.62" dy="-2.31">0</tspan></text>
<text x="252.5" y="412" font-size="7" font-weight="normal" fill="#111" text-anchor="end" stroke="#111" stroke-width="0.25">10<tspan font-size="4.62" dy="-2.31">0</tspan></text>
<text x="247.5" y="386.52" font-size="7" font-weight="normal" fill="#111" text-anchor="end" stroke="#111" stroke-width="0.25">10<tspan font-size="4.62" dy="-2.31">1</tspan></text>
<text x="269.75" y="412" font-size="7" font-weight="normal" fill="#111" text-anchor="end" stroke="#111" stroke-width="0.25">10<tspan font-size="4.62" dy="-2.31">1</tspan></text>
<text x="247.5" y="368.52" font-size="7" font-weight="normal" fill="#111" text-anchor="end" stroke="#111" stroke-width="0.25">10<tspan font-size="4.62" dy="-2.31">2</tspan></text>
<text x="287.0" y="412" font-size="7" font-weight="normal" fill="#111" text-anchor="end" stroke="#111" stroke-width="0.25">10<tspan font-size="4.62" dy="-2.31">2</tspan></text>
<text x="247.5" y="350.52" font-size="7" font-weight="normal" fill="#111" text-anchor="end" stroke="#111" stroke-width="0.25">10<tspan font-size="4.62" dy="-2.31">3</tspan></text>
<text x="304.25" y="412" font-size="7" font-weight="normal" fill="#111" text-anchor="end" stroke="#111" stroke-width="0.25">10<tspan font-size="4.62" dy="-2.31">3</tspan></text>
<text x="247.5" y="332.52" font-size="7" font-weight="normal" fill="#111" text-anchor="end" stroke="#111" stroke-width="0.25">10<tspan font-size="4.62" dy="-2.31">4</tspan></text>
<text x="321.5" y="412" font-size="7" font-weight="normal" fill="#111" text-anchor="end" stroke="#111" stroke-width="0.25">10<tspan font-size="4.62" dy="-2.31">4</tspan></text>
<text x="252.0" y="336.5" font-size="5.8" font-weight="normal" fill="#444">R1</text>
<text x="286.5" y="336.5" font-size="5.8" font-weight="normal" fill="#444">R2</text>
<text x="259.9" y="399.1" font-size="5.8" font-weight="normal" fill="#444">R3</text>
<text x="294.8" y="399.1" font-size="5.8" font-weight="normal" fill="#444">R4</text>
<rect x="252" y="330" width="2" height="2" fill="#000" stroke="none" stroke-width="1"/>
<rect x="266" y="383.5" width="2.5" height="2.5" fill="#000" stroke="none" stroke-width="1"/>
<text x="230.9" y="367.5" font-size="7" font-weight="bold" fill="#000" stroke="#000" stroke-width="0.35" text-anchor="middle" textLength="19.26" lengthAdjust="spacingAndGlyphs" transform="rotate(-90 230.9 367.5)">Ly6G</text>
<text x="275.74" y="424" font-size="6.6" font-weight="bold" fill="#000" stroke="#000" stroke-width="0.33" textLength="18.53" lengthAdjust="spacingAndGlyphs">CD41</text>
<clipPath id="c349_329"><rect x="349" y="329" width="68" height="71"/></clipPath>
<g clip-path="url(#c349_329)"><path d="M345 384L364 383L376 385L378 393L372 404L345 404z" fill="#8a8a8a" opacity="0.95" filter="url(#b1_5)"/></g>
<g clip-path="url(#c349_329)"><path d="M345 383.5L364 383.5L364 404L345 404z" fill="#6a6a6a" opacity="0.9" filter="url(#b1)"/></g>
<g clip-path="url(#c349_329)"><ellipse cx="358" cy="365.5" rx="7" ry="5.5" fill="#8a8a8a" opacity="0.9" transform="rotate(0 358 365.5)" filter="url(#b1_5)"/></g>
<path d="M360 355.5h1m-10 2h1m0 0h1m4 1h1m1 0h1m4 0h1m-14 1h1m4 0h1m0 0h1m3 0h1m0 0h1m-13 1h1m3 0h1m0 0h1m0 0h1m0 0h1m0 0h1m0 0h1m0 0h1m0 0h1m1 0h1m-13 1h1m2 0h1m0 0h1m0 0h1m0 0h1m0 0h1m0 0h1m0 0h1m2 0h1m0 0h1m-12 1h1m0 0h1m2 0h1m3 0h1m4 0h1m0 0h1m-16 1h1m1 0h1m0 0h1m0 0h1m0 0h1m0 0h1m1 0h1m2 0h1m1 0h1m0 0h1m-17 1h1m2 0h1m0 0h1m0 0h1m0 0h1m0 0h1m0 0h1m0 0h1m0 0h1m2 0h1m4 0h1m-18 1h1m0 0h1m0 0h1m0 0h1m1 0h1m1 0h1m1 0h1m0 0h1m0 0h1m0 0h1m0 0h1m0 0h1m-16 1h1m2 0h1m0 0h1m0 0h1m1 0h1m0 0h1m1 0h1m1 0h1m0 0h1m-14 1h1m3 0h1m0 0h1m0 0h1m0 0h1m1 0h1m2 0h1m0 0h1m-12 1h1m2 0h1m0 0h1m1 0h1m1 0h1m0 0h1m1 0h1m0 0h1m0 0h1m9 0h1m-25 1h1m0 0h1m1 0h1m0 0h1m0 0h1m0 0h1m0 0h1m0 0h1m0 0h1m-8 1h1m0 0h1m1 0h1m2 0h1m0 0h1m0 0h1m0 0h1m5 0h1m0 0h1m-19 1h1m1 0h1m1 0h1m1 0h1m2 0h1m0 0h1m0 0h1m-13 1h1m9 0h1m0 0h1m0 0h1m-12 1h1m11 0h1m-9 1h1m3 0h1m-5 4h1" stroke="#555" stroke-width="1" fill="none" opacity="0.55"/>
<path d="M367 362.5h1m-3 2h1m-4 1h1m3 0h1m7 0h1m1 0h1m-7 1h1m-5 1h1m1 0h1m3 0h1m-12 1h1m3 0h1m-2 1h1m4 0h1m0 0h1m-5 1h1m0 0h1m0 0h1m0 0h1m5 0h1m-9 1h1m0 0h1m0 0h1m-2 1h1m4 0h1m-15 1h1m0 0h1m2 0h1m-4 1h1m4 1h1m1 0h1m0 0h1m-8 1h1m11 0h1m-14 1h1m7 1h1" stroke="#999" stroke-width="1" fill="none" opacity="0.8"/>
<path d="M358 367.5h1m-3 1h1m-3 1h1m1 1h1m-2 1h1m2 0h1m0 0h1m0 0h1m0 0h1m-6 1h1m2 0h1m-4 1h1m0 0h1m-5 1h1m1 0h1m0 0h1m1 0h1m2 0h1m-4 1h1m0 0h1m-8 1h1m1 0h1m1 0h1m0 0h1m-2 1h1m10 0h1m1 0h1m-14 1h1m1 0h1m-2 1h1m1 0h1m1 0h1m0 0h1m-4 1h1m2 0h1m1 0h1m-3 1h1m-5 1h1m1 0h1m6 0h1m-9 1h1m3 0h1m0 0h1m0 0h1m-4 1h1" stroke="#999" stroke-width="1" fill="none" opacity="0.8"/>
<path d="M373 347.5h1m35 2h1m-16 1h1m11 0h1m-36 4h1m0 10h1m18 3h1m0 1h1m5 0h1m-14 6h1" stroke="#bbb" stroke-width="1" fill="none" opacity="0.9"/>
<ellipse cx="352.2" cy="388.5" rx="4" ry="2.2" fill="none" stroke="#aaa" stroke-width="0.9" transform="rotate(-60 352.2 388.5)"/>
<rect x="349.5" y="329.5" width="67" height="70" fill="none" stroke="#555" stroke-width="1"/>
<path d="M364.5 330L364.5 399" stroke="#444" stroke-width="1.1" fill="none"/>
<path d="M350 383.5L416 383.5" stroke="#444" stroke-width="1.1" fill="none"/>
<path d="M346.5 400.5L349 400.5" stroke="#666" stroke-width="0.9" fill="none"/>
<path d="M349.5 400L349.5 402.5" stroke="#666" stroke-width="0.9" fill="none"/>
<path d="M346.5 382.5L349 382.5" stroke="#666" stroke-width="0.9" fill="none"/>
<path d="M366.5 400L366.5 402.5" stroke="#666" stroke-width="0.9" fill="none"/>
<path d="M346.5 364.5L349 364.5" stroke="#666" stroke-width="0.9" fill="none"/>
<path d="M383.5 400L383.5 402.5" stroke="#666" stroke-width="0.9" fill="none"/>
<path d="M346.5 347.5L349 347.5" stroke="#666" stroke-width="0.9" fill="none"/>
<path d="M400.5 400L400.5 402.5" stroke="#666" stroke-width="0.9" fill="none"/>
<path d="M346.5 329.5L349 329.5" stroke="#666" stroke-width="0.9" fill="none"/>
<path d="M417.5 400L417.5 402.5" stroke="#666" stroke-width="0.9" fill="none"/>
<text x="344.5" y="402.52" font-size="7" font-weight="normal" fill="#111" text-anchor="end" stroke="#111" stroke-width="0.25">10<tspan font-size="4.62" dy="-2.31">0</tspan></text>
<text x="349.5" y="410" font-size="7" font-weight="normal" fill="#111" text-anchor="end" stroke="#111" stroke-width="0.25">10<tspan font-size="4.62" dy="-2.31">0</tspan></text>
<text x="344.5" y="384.77" font-size="7" font-weight="normal" fill="#111" text-anchor="end" stroke="#111" stroke-width="0.25">10<tspan font-size="4.62" dy="-2.31">1</tspan></text>
<text x="366.5" y="410" font-size="7" font-weight="normal" fill="#111" text-anchor="end" stroke="#111" stroke-width="0.25">10<tspan font-size="4.62" dy="-2.31">1</tspan></text>
<text x="344.5" y="367.02" font-size="7" font-weight="normal" fill="#111" text-anchor="end" stroke="#111" stroke-width="0.25">10<tspan font-size="4.62" dy="-2.31">2</tspan></text>
<text x="383.5" y="410" font-size="7" font-weight="normal" fill="#111" text-anchor="end" stroke="#111" stroke-width="0.25">10<tspan font-size="4.62" dy="-2.31">2</tspan></text>
<text x="344.5" y="349.27" font-size="7" font-weight="normal" fill="#111" text-anchor="end" stroke="#111" stroke-width="0.25">10<tspan font-size="4.62" dy="-2.31">3</tspan></text>
<text x="400.5" y="410" font-size="7" font-weight="normal" fill="#111" text-anchor="end" stroke="#111" stroke-width="0.25">10<tspan font-size="4.62" dy="-2.31">3</tspan></text>
<text x="344.5" y="331.52" font-size="7" font-weight="normal" fill="#111" text-anchor="end" stroke="#111" stroke-width="0.25">10<tspan font-size="4.62" dy="-2.31">4</tspan></text>
<text x="417.5" y="410" font-size="7" font-weight="normal" fill="#111" text-anchor="end" stroke="#111" stroke-width="0.25">10<tspan font-size="4.62" dy="-2.31">4</tspan></text>
<text x="349.0" y="335.4" font-size="5.8" font-weight="normal" fill="#444">R1</text>
<text x="383.0" y="335.4" font-size="5.8" font-weight="normal" fill="#444">R2</text>
<text x="356.8" y="397.2" font-size="5.8" font-weight="normal" fill="#444">R3</text>
<text x="391.2" y="397.2" font-size="5.8" font-weight="normal" fill="#444">R4</text>
<rect x="349" y="329" width="2" height="2" fill="#000" stroke="none" stroke-width="1"/>
<rect x="363" y="381.5" width="2.5" height="2.5" fill="#000" stroke="none" stroke-width="1"/>
<text x="327.4" y="367.5" font-size="7" font-weight="bold" fill="#000" stroke="#000" stroke-width="0.35" text-anchor="middle" textLength="19.26" lengthAdjust="spacingAndGlyphs" transform="rotate(-90 327.4 367.5)">Ly6G</text>
<text x="375.74" y="424" font-size="6.6" font-weight="bold" fill="#000" stroke="#000" stroke-width="0.33" textLength="18.53" lengthAdjust="spacingAndGlyphs">CD41</text>
<clipPath id="c443_329"><rect x="443" y="329" width="68" height="71"/></clipPath>
<g clip-path="url(#c443_329)"><path d="M439 383L459 383L470 385L471 395L466 404L439 404z" fill="#8a8a8a" opacity="0.95" filter="url(#b1_5)"/></g>
<g clip-path="url(#c443_329)"><path d="M439 383L458.5 383L458.5 404L439 404z" fill="#666" opacity="0.9" filter="url(#b1)"/></g>
<g clip-path="url(#c443_329)"><ellipse cx="456" cy="365" rx="9" ry="6.5" fill="#aaa" opacity="0.9" transform="rotate(0 456 365)" filter="url(#b1_5)"/></g>
<path d="M448 351.5h1m6 3h1m-2 2h1m5 0h1m2 0h1m-14 1h1m0 1h1m2 0h1m1 0h1m1 0h1m-11 1h1m4 0h1m0 0h1m0 0h1m1 0h1m1 0h1m0 0h1m0 0h1m1 0h1m-17 1h1m2 0h1m1 0h1m1 0h1m0 0h1m0 0h1m1 0h1m1 0h1m0 0h1m1 0h1m3 0h1m-23 1h1m1 0h1m2 0h1m0 0h1m1 0h1m0 0h1m1 0h1m0 0h1m1 0h1m1 0h1m-18 1h1m2 0h1m0 0h1m0 0h1m0 0h1m0 0h1m1 0h1m0 0h1m0 0h1m1 0h1m0 0h1m0 0h1m4 0h1m1 0h1m-20 1h1m1 0h1m1 0h1m0 0h1m0 0h1m2 0h1m0 0h1m0 0h1m0 0h1m1 0h1m1 0h1m0 0h1m-20 1h1m3 0h1m3 0h1m0 0h1m0 0h1m0 0h1m0 0h1m0 0h1m0 0h1m0 0h1m1 0h1m5 0h1m-21 1h1m0 0h1m1 0h1m0 0h1m0 0h1m1 0h1m1 0h1m0 0h1m1 0h1m0 0h1m0 0h1m0 0h1m4 0h1m-23 1h1m1 0h1m0 0h1m1 0h1m0 0h1m0 0h1m0 0h1m0 0h1m0 0h1m0 0h1m0 0h1m0 0h1m0 0h1m1 0h1m0 0h1m1 0h1m1 0h1m-20 1h1m3 0h1m0 0h1m0 0h1m0 0h1m0 0h1m0 0h1m3 0h1m3 0h1m0 0h1m-20 1h1m1 0h1m0 0h1m0 0h1m2 0h1m0 0h1m0 0h1m0 0h1m0 0h1m0 0h1m0 0h1m2 0h1m2 0h1m0 0h1m-19 1h1m2 0h1m0 0h1m1 0h1m1 0h1m2 0h1m2 0h1m4 0h1m-23 1h1m4 0h1m0 0h1m3 0h1m0 0h1m0 0h1m0 0h1m1 0h1m9 0h1m-28 1h1m3 0h1m2 0h1m0 0h1m1 0h1m2 0h1m5 0h1m3 0h1m-16 1h1m0 0h1m-4 1h1m2 0h1m6 0h1m6 1h1m-17 2h1m1 0h1" stroke="#777" stroke-width="1" fill="none" opacity="0.55"/>
<path d="M451 365.5h1m-4 1h1m6 2h1m0 0h1m2 0h1m-4 3h1m4 0h1m-12 1h1m2 0h1m6 0h1m-6 1h1m-8 2h1m1 0h1m1 0h1m1 0h1m0 0h1m0 0h1m-3 1h1m1 0h1m-1 1h1m0 0h1m-5 1h1m0 0h1m3 0h1m-5 1h1m4 0h1m-6 1h1m1 1h1m1 0h1m-5 1h1m1 0h1m4 0h1m-11 1h1m3 2h1m2 0h1" stroke="#aaa" stroke-width="1" fill="none" opacity="0.8"/>
<ellipse cx="446.5" cy="388.5" rx="4" ry="2.2" fill="none" stroke="#aaa" stroke-width="0.9" transform="rotate(-60 446.5 388.5)"/>
<rect x="443.5" y="329.5" width="67" height="70" fill="none" stroke="#555" stroke-width="1"/>
<path d="M458.5 330L458.5 399" stroke="#444" stroke-width="1.1" fill="none"/>
<path d="M444 383.5L510 383.5" stroke="#444" stroke-width="1.1" fill="none"/>
<path d="M440.5 400.5L443 400.5" stroke="#666" stroke-width="0.9" fill="none"/>
<path d="M443.5 400L443.5 402.5" stroke="#666" stroke-width="0.9" fill="none"/>
<path d="M440.5 382.5L443 382.5" stroke="#666" stroke-width="0.9" fill="none"/>
<path d="M460.5 400L460.5 402.5" stroke="#666" stroke-width="0.9" fill="none"/>
<path d="M440.5 364.5L443 364.5" stroke="#666" stroke-width="0.9" fill="none"/>
<path d="M477.5 400L477.5 402.5" stroke="#666" stroke-width="0.9" fill="none"/>
<path d="M440.5 347.5L443 347.5" stroke="#666" stroke-width="0.9" fill="none"/>
<path d="M494.5 400L494.5 402.5" stroke="#666" stroke-width="0.9" fill="none"/>
<path d="M440.5 329.5L443 329.5" stroke="#666" stroke-width="0.9" fill="none"/>
<path d="M511.5 400L511.5 402.5" stroke="#666" stroke-width="0.9" fill="none"/>
<text x="438.5" y="402.52" font-size="7" font-weight="normal" fill="#111" text-anchor="end" stroke="#111" stroke-width="0.25">10<tspan font-size="4.62" dy="-2.31">0</tspan></text>
<text x="443.5" y="410" font-size="7" font-weight="normal" fill="#111" text-anchor="end" stroke="#111" stroke-width="0.25">10<tspan font-size="4.62" dy="-2.31">0</tspan></text>
<text x="438.5" y="384.77" font-size="7" font-weight="normal" fill="#111" text-anchor="end" stroke="#111" stroke-width="0.25">10<tspan font-size="4.62" dy="-2.31">1</tspan></text>
<text x="460.5" y="410" font-size="7" font-weight="normal" fill="#111" text-anchor="end" stroke="#111" stroke-width="0.25">10<tspan font-size="4.62" dy="-2.31">1</tspan></text>
<text x="438.5" y="367.02" font-size="7" font-weight="normal" fill="#111" text-anchor="end" stroke="#111" stroke-width="0.25">10<tspan font-size="4.62" dy="-2.31">2</tspan></text>
<text x="477.5" y="410" font-size="7" font-weight="normal" fill="#111" text-anchor="end" stroke="#111" stroke-width="0.25">10<tspan font-size="4.62" dy="-2.31">2</tspan></text>
<text x="438.5" y="349.27" font-size="7" font-weight="normal" fill="#111" text-anchor="end" stroke="#111" stroke-width="0.25">10<tspan font-size="4.62" dy="-2.31">3</tspan></text>
<text x="494.5" y="410" font-size="7" font-weight="normal" fill="#111" text-anchor="end" stroke="#111" stroke-width="0.25">10<tspan font-size="4.62" dy="-2.31">3</tspan></text>
<text x="438.5" y="331.52" font-size="7" font-weight="normal" fill="#111" text-anchor="end" stroke="#111" stroke-width="0.25">10<tspan font-size="4.62" dy="-2.31">4</tspan></text>
<text x="511.5" y="410" font-size="7" font-weight="normal" fill="#111" text-anchor="end" stroke="#111" stroke-width="0.25">10<tspan font-size="4.62" dy="-2.31">4</tspan></text>
<text x="443.0" y="335.4" font-size="5.8" font-weight="normal" fill="#444">R1</text>
<text x="477.0" y="335.4" font-size="5.8" font-weight="normal" fill="#444">R2</text>
<text x="450.8" y="397.2" font-size="5.8" font-weight="normal" fill="#444">R3</text>
<text x="485.2" y="397.2" font-size="5.8" font-weight="normal" fill="#444">R4</text>
<rect x="443" y="329" width="2" height="2" fill="#000" stroke="none" stroke-width="1"/>
<rect x="457" y="381.5" width="2.5" height="2.5" fill="#000" stroke="none" stroke-width="1"/>
<text x="426.4" y="367.5" font-size="7" font-weight="bold" fill="#000" stroke="#000" stroke-width="0.35" text-anchor="middle" textLength="19.26" lengthAdjust="spacingAndGlyphs" transform="rotate(-90 426.4 367.5)">Ly6G</text>
<text x="476.74" y="424" font-size="6.6" font-weight="bold" fill="#000" stroke="#000" stroke-width="0.33" textLength="18.03" lengthAdjust="spacingAndGlyphs">CD41</text>
<text x="0.74" y="451.7" font-size="14" font-weight="bold" fill="#000" stroke="#000" stroke-width="0.3" textLength="9.82" lengthAdjust="spacingAndGlyphs">D</text>
<clipPath id="d25_465"><rect x="25" y="465" width="73" height="85"/></clipPath>
<path d="M80 466.5h1m-49 1h1m2 0h1m4 1h1m1 1h1m28 2h1m15 0h1m-6 1h1m0 1h1m-37 2h1m3 1h1m-16 1h1m19 1h1m2 0h1m-27 1h1m59 0h1m-59 3h1m10 1h1m48 1h1m-57 1h1m10 0h1m30 1h1m-15 1h1m22 0h1m1 0h1m-31 3h1m-22 1h1m32 0h1m-40 1h1m40 0h1m6 0h1m-55 1h1m47 0h1m5 1h1m5 1h1m-60 5h1m14 0h1m4 1h1m22 1h1m6 0h1m-18 2h1m-31 1h1m29 0h1m-27 1h1m22 3h1m25 0h1m-30 2h1m35 0h1m-25 2h1m-35 3h1m29 0h1m-14 2h1m31 0h1m-8 1h1m-21 3h1m-22 1h1m6 0h1m22 1h1m16 0h1m-41 1h1m48 1h1m-61 2h1m36 0h1m3 0h1m6 0h1m-38 1h1m38 0h1m-21 1h1m-7 1h1m2 0h1m-33 1h1m59 0h1m-43 1h1m31 0h1m-18 1h1m-27 1h1m50 0h1m-26 3h1m2 1h1m9 0h1m7 1h1m-50 1h1m4 1h1m15 2h1m2 0h1m26 0h1m-43 1h1m29 0h1m-34 1h1m-9 2h1" stroke="#d8d8d8" stroke-width="1" fill="none" opacity="0.9"/>
<g clip-path="url(#d25_465)"><ellipse cx="66" cy="509" rx="8" ry="11" fill="#ddd" opacity="0.7" transform="rotate(-8 66 509)" filter="url(#b2)"/></g>
<path d="M60 493.5h1m1 1h1m0 0h1m1 0h1m3 0h1m2 0h1m-13 1h1m0 0h1m2 0h1m-7 1h1m13 0h1m-19 1h1m3 0h1m-4 1h1m5 0h1m1 0h1m1 0h1m2 0h1m1 0h1m-13 1h1m2 0h1m0 0h1m0 0h1m1 0h1m10 0h1m-20 1h1m1 0h1m0 0h1m0 0h1m3 0h1m2 0h1m0 0h1m-10 1h1m0 0h1m1 0h1m1 0h1m0 0h1m0 0h1m1 0h1m-11 1h1m3 0h1m0 0h1m0 0h1m0 0h1m1 0h1m-11 1h1m0 0h1m0 0h1m0 0h1m1 0h1m0 0h1m1 0h1m4 0h1m1 0h1m1 0h1m1 0h1m-19 1h1m2 0h1m0 0h1m0 0h1m0 0h1m0 0h1m1 0h1m1 0h1m0 0h1m-13 1h1m0 0h1m1 0h1m0 0h1m1 0h1m0 0h1m0 0h1m0 0h1m0 0h1m0 0h1m1 0h1m1 0h1m1 0h1m-15 1h1m0 0h1m1 0h1m0 0h1m0 0h1m0 0h1m0 0h1m0 0h1m0 0h1m2 0h1m-15 1h1m0 0h1m0 0h1m1 0h1m0 0h1m0 0h1m0 0h1m0 0h1m0 0h1m7 0h1m-22 1h1m1 0h1m0 0h1m1 0h1m2 0h1m0 0h1m0 0h1m0 0h1m0 0h1m1 0h1m0 0h1m2 0h1m-12 1h1m0 0h1m1 0h1m0 0h1m2 0h1m0 0h1m0 0h1m0 0h1m-19 1h1m4 0h1m0 0h1m0 0h1m1 0h1m0 0h1m0 0h1m1 0h1m2 0h1m1 0h1m-15 1h1m3 0h1m0 0h1m1 0h1m1 0h1m0 0h1m0 0h1m0 0h1m1 0h1m0 0h1m-18 1h1m1 0h1m3 0h1m0 0h1m3 0h1m0 0h1m2 0h1m0 0h1m1 0h1m-20 1h1m0 0h1m4 0h1m1 0h1m0 0h1m0 0h1m0 0h1m0 0h1m1 0h1m0 0h1m0 0h1m1 0h1m-10 1h1m0 0h1m0 0h1m1 0h1m1 0h1m-16 1h1m1 0h1m0 0h1m2 0h1m0 0h1m0 0h1m0 0h1m1 0h1m0 0h1m-8 1h1m5 0h1m1 0h1m-16 1h1m6 0h1m2 0h1m2 0h1m0 0h1m0 0h1m-4 1h1m0 0h1m3 0h1m1 0h1m-15 1h1m3 0h1m-5 1h1m2 0h1m3 0h1m5 0h1m-6 1h1m-3 1h1m0 0h1m0 0h1m2 0h1m-13 1h1m12 0h1m-7 3h1" stroke="#888" stroke-width="1" fill="none" opacity="0.6"/>
<path d="M61 498.5h1m-1 2h1m-1 1h1m2 0h1m0 0h1m3 0h1m-6 1h1m2 0h1m-6 1h1m2 0h1m0 0h1m-6 1h1m0 0h1m0 0h1m2 0h1m1 0h1m3 0h1m-10 1h1m1 0h1m1 0h1m3 0h1m0 0h1m-11 1h1m1 0h1m0 0h1m3 0h1m-11 1h1m1 0h1m0 0h1m0 0h1m0 0h1m2 0h1m0 0h1m0 0h1m2 0h1m-11 1h1m1 0h1m0 0h1m0 0h1m0 0h1m1 0h1m0 0h1m-9 1h1m1 0h1m0 0h1m0 0h1m0 0h1m1 0h1m0 0h1m-10 1h1m0 0h1m0 0h1m1 0h1m1 0h1m1 0h1m0 0h1m3 0h1m-11 1h1m0 0h1m0 0h1m0 0h1m0 0h1m0 0h1m-10 1h1m2 0h1m0 0h1m0 0h1m3 0h1m2 0h1m-12 1h1m2 0h1m2 0h1m-5 1h1m1 0h1m0 0h1m0 0h1m2 0h1m-13 1h1m9 0h1m-4 1h1m2 0h1m-5 1h1m-3 2h1" stroke="#666" stroke-width="1" fill="none" opacity="0.6"/>
<g clip-path="url(#d25_465)"><path d="M27 546L45 543L63 538L66 541L50 546L27 550z" fill="#8a8a8a" opacity="0.9" filter="url(#b1)"/></g>
<g clip-path="url(#d25_465)"><ellipse cx="52" cy="542.5" rx="9" ry="3" fill="#666" opacity="0.8" transform="rotate(-12 52 542.5)" filter="url(#b1)"/></g>
<path d="M56 538.5h1m7 0h1m-14 1h1m0 0h1m0 0h1m0 0h1m3 0h1m0 0h1m0 0h1m0 0h1m0 0h1m0 0h1m-24 1h1m5 0h1m1 0h1m2 0h1m0 0h1m0 0h1m0 0h1m0 0h1m1 0h1m0 0h1m0 0h1m0 0h1m1 0h1m0 0h1m0 0h1m-28 1h1m3 0h1m2 0h1m1 0h1m0 0h1m0 0h1m0 0h1m1 0h1m0 0h1m0 0h1m0 0h1m0 0h1m1 0h1m0 0h1m0 0h1m1 0h1m0 0h1m-25 1h1m0 0h1m0 0h1m0 0h1m0 0h1m1 0h1m0 0h1m0 0h1m0 0h1m0 0h1m0 0h1m0 0h1m0 0h1m1 0h1m0 0h1m0 0h1m0 0h1m0 0h1m0 0h1m-29 1h1m0 0h1m0 0h1m1 0h1m2 0h1m1 0h1m0 0h1m0 0h1m0 0h1m0 0h1m0 0h1m1 0h1m0 0h1m0 0h1m0 0h1m1 0h1m0 0h1m0 0h1m3 0h1m-31 1h1m3 0h1m1 0h1m1 0h1m0 0h1m0 0h1m0 0h1m0 0h1m0 0h1m0 0h1m0 0h1m1 0h1m0 0h1m0 0h1m0 0h1m0 0h1m0 0h1m0 0h1m0 0h1m0 0h1m0 0h1m3 0h1m-31 1h1m0 0h1m0 0h1m1 0h1m2 0h1m0 0h1m0 0h1m1 0h1m0 0h1m0 0h1m0 0h1m0 0h1m0 0h1m0 0h1m2 0h1m1 0h1m-21 1h1m0 0h1m0 0h1m1 0h1m2 0h1m2 0h1m0 0h1m1 0h1m1 0h1m3 0h1m-21 1h1m0 0h1m0 0h1m0 0h1m1 0h1m0 0h1m0 0h1m0 0h1m2 0h1m-11 1h1m1 0h1m0 0h1m1 1h1" stroke="#555" stroke-width="1" fill="none" opacity="0.5"/>
<g clip-path="url(#d25_465)"><ellipse cx="30" cy="548" rx="3" ry="1.8" fill="#222" opacity="0.9" transform="rotate(0 30 548)" filter="url(#b0_7)"/></g>
<path d="M75 518.5h1m1 2h1m1 0h1m-14 1h1m11 0h1m2 0h1m-9 1h1m3 0h1m4 0h1m-8 2h1m0 0h1m0 0h1m0 0h1m0 0h1m6 0h1m-18 1h1m5 0h1m0 0h1m1 0h1m0 0h1m7 0h1m-18 1h1m1 0h1m1 0h1m1 0h1m0 0h1m0 0h1m2 0h1m-11 1h1m0 0h1m0 0h1m3 0h1m2 0h1m-15 1h1m7 0h1m0 0h1m3 0h1m-13 1h1m0 0h1m0 0h1m2 0h1m0 0h1m1 0h1m0 0h1m0 0h1m0 0h1m-12 1h1m0 0h1m1 0h1m1 0h1m0 0h1m0 0h1m0 0h1m0 0h1m0 0h1m3 0h1m-16 1h1m0 0h1m1 0h1m0 0h1m3 0h1m1 0h1m0 0h1m4 0h1m-24 1h1m5 0h1m3 0h1m4 0h1m1 0h1m0 0h1m-14 1h1m0 0h1m0 0h1m1 0h1m-4 1h1m0 0h1m2 0h1m0 0h1m1 0h1m-10 1h1m2 0h1m3 0h1m1 0h1m-11 1h1m0 0h1m1 0h1m0 0h1m7 0h1m0 0h1m-11 1h1m1 0h1m0 0h1m0 0h1m3 0h1m-13 1h1m0 0h1m3 0h1m3 0h1m-18 1h1m11 0h1m0 0h1m-9 1h1m1 0h1m0 0h1m3 0h1m3 0h1m1 0h1m-13 1h1m5 0h1m-4 1h1m-1 1h1m0 0h1m0 0h1m-1 1h1" stroke="#999" stroke-width="1" fill="none" opacity="0.7"/>
<rect x="25.5" y="465.5" width="72" height="84" fill="none" stroke="#bbb" stroke-width="1"/>
<path d="M23 550.5L25 550.5" stroke="#666" stroke-width="0.8" fill="none"/>
<text x="22" y="551.944" font-size="5.4" font-weight="normal" fill="#111" stroke="#111" stroke-width="0.25" text-anchor="end">0</text>
<path d="M25.5 550L25.5 552" stroke="#666" stroke-width="0.8" fill="none"/>
<text x="25.0" y="556.8" font-size="5.4" font-weight="normal" fill="#111" stroke="#111" stroke-width="0.25" text-anchor="middle">0</text>
<path d="M23 529.5L25 529.5" stroke="#666" stroke-width="0.8" fill="none"/>
<text x="22" y="530.694" font-size="5.4" font-weight="normal" fill="#111" stroke="#111" stroke-width="0.25" text-anchor="end">64</text>
<path d="M43.5 550L43.5 552" stroke="#666" stroke-width="0.8" fill="none"/>
<text x="43.25" y="556.8" font-size="5.4" font-weight="normal" fill="#111" stroke="#111" stroke-width="0.25" text-anchor="middle">64</text>
<path d="M23 508.5L25 508.5" stroke="#666" stroke-width="0.8" fill="none"/>
<text x="22" y="509.444" font-size="5.4" font-weight="normal" fill="#111" stroke="#111" stroke-width="0.25" text-anchor="end">128</text>
<path d="M62.5 550L62.5 552" stroke="#666" stroke-width="0.8" fill="none"/>
<text x="61.5" y="556.8" font-size="5.4" font-weight="normal" fill="#111" stroke="#111" stroke-width="0.25" text-anchor="middle">128</text>
<path d="M23 486.5L25 486.5" stroke="#666" stroke-width="0.8" fill="none"/>
<text x="22" y="488.194" font-size="5.4" font-weight="normal" fill="#111" stroke="#111" stroke-width="0.25" text-anchor="end">192</text>
<path d="M80.5 550L80.5 552" stroke="#666" stroke-width="0.8" fill="none"/>
<text x="79.75" y="556.8" font-size="5.4" font-weight="normal" fill="#111" stroke="#111" stroke-width="0.25" text-anchor="middle">192</text>
<path d="M23 465.5L25 465.5" stroke="#666" stroke-width="0.8" fill="none"/>
<text x="22" y="466.944" font-size="5.4" font-weight="normal" fill="#111" stroke="#111" stroke-width="0.25" text-anchor="end">256</text>
<path d="M98.5 550L98.5 552" stroke="#666" stroke-width="0.8" fill="none"/>
<text x="98.0" y="556.8" font-size="5.4" font-weight="normal" fill="#111" stroke="#111" stroke-width="0.25" text-anchor="middle">256</text>
<ellipse cx="66.2" cy="509.2" rx="9.2" ry="12" fill="none" stroke="#555" stroke-width="0.9" transform="rotate(-5 66.2 509.2)"/>
<text x="72.5" y="495" font-size="3.5" font-weight="normal" fill="#555">R1</text>
<path d="M88 511L116.5 499" stroke="#000" stroke-width="1.5" fill="none"/>
<path d="M121 497.2L114.5 496.5L116.5 502z" fill="#000"/>
<path d="M168.5 448L168.5 558.5" stroke="#222" stroke-width="1" fill="none"/>
<path d="M165.5 558.5L168.5 558.5" stroke="#222" stroke-width="1" fill="none"/>
<text x="152.1" y="561.1" font-size="10" font-weight="bold" fill="#000" stroke="#000" stroke-width="0.45" textLength="6.4" lengthAdjust="spacingAndGlyphs">0</text>
<path d="M165.5 540.5L168.5 540.5" stroke="#222" stroke-width="1" fill="none"/>
<text x="152.1" y="543.1" font-size="10" font-weight="bold" fill="#000" stroke="#000" stroke-width="0.45" textLength="6.4" lengthAdjust="spacingAndGlyphs">5</text>
<path d="M165.5 522.5L168.5 522.5" stroke="#222" stroke-width="1" fill="none"/>
<text x="145.8" y="525.1" font-size="10" font-weight="bold" fill="#000" stroke="#000" stroke-width="0.45" textLength="12.7" lengthAdjust="spacingAndGlyphs">10</text>
<path d="M165.5 503.5L168.5 503.5" stroke="#222" stroke-width="1" fill="none"/>
<text x="145.8" y="506.1" font-size="10" font-weight="bold" fill="#000" stroke="#000" stroke-width="0.45" textLength="12.7" lengthAdjust="spacingAndGlyphs">15</text>
<path d="M165.5 485.5L168.5 485.5" stroke="#222" stroke-width="1" fill="none"/>
<text x="145.8" y="488.1" font-size="10" font-weight="bold" fill="#000" stroke="#000" stroke-width="0.45" textLength="12.7" lengthAdjust="spacingAndGlyphs">20</text>
<path d="M165.5 467.5L168.5 467.5" stroke="#222" stroke-width="1" fill="none"/>
<text x="145.8" y="470.1" font-size="10" font-weight="bold" fill="#000" stroke="#000" stroke-width="0.45" textLength="12.7" lengthAdjust="spacingAndGlyphs">25</text>
<path d="M165.5 449.5L168.5 449.5" stroke="#222" stroke-width="1" fill="none"/>
<text x="145.8" y="452.1" font-size="10" font-weight="bold" fill="#000" stroke="#000" stroke-width="0.45" textLength="12.7" lengthAdjust="spacingAndGlyphs">30</text>
<text x="135.5" y="509.45" font-size="9.6" font-weight="bold" fill="#000" stroke="#000" stroke-width="0.45" text-anchor="middle" textLength="93.27" lengthAdjust="spacingAndGlyphs" transform="rotate(-90 135.5 509.45)">% CD41,Ly6G cells</text>
<path d="M194.2 521.6L194.2 513.592" stroke="#555" stroke-width="1" fill="none"/>
<path d="M192.7 514.092L195.7 514.092" stroke="#555" stroke-width="1" fill="none"/>
<rect x="184.5" y="522.1" width="19.400000000000006" height="35.89999999999998" fill="#c0c0c0" stroke="#333" stroke-width="1"/>
<path d="M214.4 483.744L214.4 465.544" stroke="#555" stroke-width="1" fill="none"/>
<path d="M212.9 466.044L215.9 466.044" stroke="#555" stroke-width="1" fill="none"/>
<rect x="204.9" y="484.244" width="19.0" height="73.75599999999997" fill="#707070" stroke="#333" stroke-width="1"/>
<path d="M264.0 517.232L264.0 509.952" stroke="#555" stroke-width="1" fill="none"/>
<path d="M262.5 510.452L265.5 510.452" stroke="#555" stroke-width="1" fill="none"/>
<rect x="254.5" y="517.732" width="19" height="40.26800000000003" fill="#c0c0c0" stroke="#333" stroke-width="1"/>
<path d="M284.0 517.596L284.0 506.676" stroke="#555" stroke-width="1" fill="none"/>
<path d="M282.5 507.176L285.5 507.176" stroke="#555" stroke-width="1" fill="none"/>
<rect x="274.5" y="518.096" width="19" height="39.903999999999996" fill="#707070" stroke="#333" stroke-width="1"/>
<path d="M168 558.5L309 558.5" stroke="#222" stroke-width="1" fill="none"/>
<path d="M239.5 558L239.5 561" stroke="#222" stroke-width="1" fill="none"/>
<path d="M308.5 558L308.5 561" stroke="#222" stroke-width="1" fill="none"/>
<path d="M187.5 507V477.5H213.5" stroke="#aaa" stroke-width="1" fill="none"/>
<text x="171.93" y="473.6" font-size="9.3" font-weight="bold" fill="#000" stroke="#000" stroke-width="0.45" textLength="43.04" lengthAdjust="spacingAndGlyphs">p=0.0036</text>
<rect x="184.9" y="450.7" width="6.1" height="5.3" fill="#c0c0c0" stroke="#888" stroke-width="1"/>
<text x="194.61" y="456.3" font-size="9.8" font-weight="bold" fill="#000" stroke="#000" stroke-width="0.45" textLength="39.38" lengthAdjust="spacingAndGlyphs">Control</text>
<rect x="255.1" y="450.7" width="6" height="5.3" fill="#707070" stroke="#555" stroke-width="1"/>
<text x="264.61" y="456.3" font-size="9.8" font-weight="bold" fill="#000" stroke="#000" stroke-width="0.45" textLength="31.98" lengthAdjust="spacingAndGlyphs">EMCV</text>
<text x="196.11" y="575.6" font-size="9.7" font-weight="bold" fill="#000" stroke="#000" stroke-width="0.45" textLength="16.88" lengthAdjust="spacingAndGlyphs">WT</text>
<text x="258.89" y="578" font-size="10.2" font-weight="bold" fill="#000" stroke="#000" stroke-width="0.45" font-style="italic" textLength="45.82" lengthAdjust="spacingAndGlyphs">TLR7KO</text>
<text x="0.74" y="601.5" font-size="14" font-weight="bold" fill="#000" stroke="#000" stroke-width="0.3" textLength="8.62" lengthAdjust="spacingAndGlyphs">E</text>
<path d="M79 600L79 717.5" stroke="#444" stroke-width="1.1" fill="none"/>
<path d="M76 717.5L79 717.5" stroke="#444" stroke-width="1" fill="none"/>
<text x="64.06" y="720.3" font-size="8.6" font-weight="bold" fill="#000" stroke="#000" stroke-width="0.43" textLength="5.09" lengthAdjust="spacingAndGlyphs">0</text>
<path d="M76 704.5L79 704.5" stroke="#444" stroke-width="1" fill="none"/>
<text x="55.76" y="707.3" font-size="8.6" font-weight="bold" fill="#000" stroke="#000" stroke-width="0.43" textLength="13.39" lengthAdjust="spacingAndGlyphs">0.2</text>
<path d="M76 691.5L79 691.5" stroke="#444" stroke-width="1" fill="none"/>
<text x="55.76" y="694.3" font-size="8.6" font-weight="bold" fill="#000" stroke="#000" stroke-width="0.43" textLength="13.39" lengthAdjust="spacingAndGlyphs">0.4</text>
<path d="M76 678.5L79 678.5" stroke="#444" stroke-width="1" fill="none"/>
<text x="55.76" y="681.3" font-size="8.6" font-weight="bold" fill="#000" stroke="#000" stroke-width="0.43" textLength="13.39" lengthAdjust="spacingAndGlyphs">0.6</text>
<path d="M76 665.5L79 665.5" stroke="#444" stroke-width="1" fill="none"/>
<text x="55.76" y="668.3" font-size="8.6" font-weight="bold" fill="#000" stroke="#000" stroke-width="0.43" textLength="13.39" lengthAdjust="spacingAndGlyphs">0.8</text>
<path d="M76 652.5L79 652.5" stroke="#444" stroke-width="1" fill="none"/>
<text x="64.06" y="655.3" font-size="8.6" font-weight="bold" fill="#000" stroke="#000" stroke-width="0.43" textLength="5.09" lengthAdjust="spacingAndGlyphs">1</text>
<path d="M76 639.5L79 639.5" stroke="#444" stroke-width="1" fill="none"/>
<text x="55.76" y="642.3" font-size="8.6" font-weight="bold" fill="#000" stroke="#000" stroke-width="0.43" textLength="13.39" lengthAdjust="spacingAndGlyphs">1.2</text>
<path d="M76 626.5L79 626.5" stroke="#444" stroke-width="1" fill="none"/>
<text x="55.76" y="629.3" font-size="8.6" font-weight="bold" fill="#000" stroke="#000" stroke-width="0.43" textLength="13.39" lengthAdjust="spacingAndGlyphs">1.4</text>
<path d="M76 613.5L79 613.5" stroke="#444" stroke-width="1" fill="none"/>
<text x="55.76" y="616.3" font-size="8.6" font-weight="bold" fill="#000" stroke="#000" stroke-width="0.43" textLength="13.39" lengthAdjust="spacingAndGlyphs">1.6</text>
<path d="M76 600.5L79 600.5" stroke="#444" stroke-width="1" fill="none"/>
<text x="55.76" y="603.3" font-size="8.6" font-weight="bold" fill="#000" stroke="#000" stroke-width="0.43" textLength="13.39" lengthAdjust="spacingAndGlyphs">1.8</text>
<text x="36.5" y="659.7" font-size="8.8" font-weight="bold" fill="#000" stroke="#000" stroke-width="0.44" text-anchor="middle" textLength="100.7" lengthAdjust="spacingAndGlyphs" transform="rotate(-90 36.5 659.7)">HA_Fold increase from</text>
<text x="48.6" y="659.7" font-size="8.8" font-weight="bold" fill="#000" stroke="#000" stroke-width="0.44" text-anchor="middle" textLength="32.1" lengthAdjust="spacingAndGlyphs" transform="rotate(-90 48.6 659.7)">control</text>
<rect x="87.0" y="652.6" width="11.3" height="64.4" fill="#747474" stroke="#222" stroke-width="1.3"/>
<text x="92.65" y="729" font-size="6.6" font-weight="bold" fill="#000" stroke="#000" stroke-width="0.33" text-anchor="middle">1</text>
<path d="M120.23 626.78L120.23 620.15" stroke="#222" stroke-width="1.2" fill="none"/>
<path d="M118.43 620.65L122.03 620.65" stroke="#222" stroke-width="1.2" fill="none"/>
<rect x="114.58" y="627.38" width="11.3" height="89.62000000000003" fill="#747474" stroke="#222" stroke-width="1.3"/>
<text x="120.23" y="729" font-size="6.6" font-weight="bold" fill="#000" stroke="#000" stroke-width="0.33" text-anchor="middle">2</text>
<path d="M147.81 650.505L147.81 644.525" stroke="#222" stroke-width="1.2" fill="none"/>
<path d="M146.01 645.025L149.61 645.025" stroke="#222" stroke-width="1.2" fill="none"/>
<rect x="142.16" y="651.105" width="11.3" height="65.89500000000001" fill="#747474" stroke="#222" stroke-width="1.3"/>
<text x="147.81" y="729" font-size="6.6" font-weight="bold" fill="#000" stroke="#000" stroke-width="0.33" text-anchor="middle">3</text>
<path d="M175.39 620.475L175.39 616.25" stroke="#222" stroke-width="1.2" fill="none"/>
<path d="M173.58999999999997 616.75L177.19 616.75" stroke="#222" stroke-width="1.2" fill="none"/>
<rect x="169.73999999999998" y="621.075" width="11.3" height="95.92499999999998" fill="#747474" stroke="#222" stroke-width="1.3"/>
<text x="175.39" y="729" font-size="6.6" font-weight="bold" fill="#000" stroke="#000" stroke-width="0.33" text-anchor="middle">4</text>
<path d="M202.97 643.745L202.97 636.725" stroke="#222" stroke-width="1.2" fill="none"/>
<path d="M201.17 637.225L204.77 637.225" stroke="#222" stroke-width="1.2" fill="none"/>
<rect x="197.32" y="644.345" width="11.3" height="72.655" fill="#747474" stroke="#222" stroke-width="1.3"/>
<text x="202.97" y="729" font-size="6.6" font-weight="bold" fill="#000" stroke="#000" stroke-width="0.33" text-anchor="middle">5</text>
<rect x="224.89999999999998" y="652.6" width="11.3" height="64.4" fill="#747474" stroke="#222" stroke-width="1.3"/>
<text x="230.54999999999998" y="729" font-size="6.6" font-weight="bold" fill="#000" stroke="#000" stroke-width="0.33" text-anchor="middle">6</text>
<path d="M258.13 654.99L258.13 653.755" stroke="#222" stroke-width="1.2" fill="none"/>
<path d="M256.33 654.255L259.93 654.255" stroke="#222" stroke-width="1.2" fill="none"/>
<rect x="252.48" y="655.59" width="11.3" height="61.40999999999999" fill="#747474" stroke="#222" stroke-width="1.3"/>
<text x="258.13" y="729" font-size="6.6" font-weight="bold" fill="#000" stroke="#000" stroke-width="0.33" text-anchor="middle">7</text>
<path d="M285.71000000000004 655.77L285.71000000000004 645.5" stroke="#222" stroke-width="1.2" fill="none"/>
<path d="M283.91 646.0L287.51000000000005 646.0" stroke="#222" stroke-width="1.2" fill="none"/>
<rect x="280.06000000000006" y="656.37" width="11.3" height="60.63000000000002" fill="#747474" stroke="#222" stroke-width="1.3"/>
<text x="285.71000000000004" y="729" font-size="6.6" font-weight="bold" fill="#000" stroke="#000" stroke-width="0.33" text-anchor="middle">8</text>
<path d="M313.28999999999996 651.22L313.28999999999996 649.4" stroke="#222" stroke-width="1.2" fill="none"/>
<path d="M311.48999999999995 649.9L315.09 649.9" stroke="#222" stroke-width="1.2" fill="none"/>
<rect x="307.64" y="651.82" width="11.3" height="65.17999999999998" fill="#747474" stroke="#222" stroke-width="1.3"/>
<text x="313.28999999999996" y="729" font-size="6.6" font-weight="bold" fill="#000" stroke="#000" stroke-width="0.33" text-anchor="middle">9</text>
<path d="M340.87 650.05L340.87 648.1" stroke="#222" stroke-width="1.2" fill="none"/>
<path d="M339.07 648.6L342.67 648.6" stroke="#222" stroke-width="1.2" fill="none"/>
<rect x="335.22" y="650.65" width="11.3" height="66.35000000000005" fill="#747474" stroke="#222" stroke-width="1.3"/>
<text x="340.87" y="729" font-size="6.6" font-weight="bold" fill="#000" stroke="#000" stroke-width="0.33" text-anchor="middle">10</text>
<path d="M77 717.5L355 717.5" stroke="#333" stroke-width="1.1" fill="none"/>
<path d="M106.5 717L106.5 719.5" stroke="#333" stroke-width="1" fill="none"/>
<path d="M134.5 717L134.5 719.5" stroke="#333" stroke-width="1" fill="none"/>
<path d="M162.5 717L162.5 719.5" stroke="#333" stroke-width="1" fill="none"/>
<path d="M189.5 717L189.5 719.5" stroke="#333" stroke-width="1" fill="none"/>
<path d="M217.5 717L217.5 719.5" stroke="#333" stroke-width="1" fill="none"/>
<path d="M244.5 717L244.5 719.5" stroke="#333" stroke-width="1" fill="none"/>
<path d="M272.5 717L272.5 719.5" stroke="#333" stroke-width="1" fill="none"/>
<path d="M300.5 717L300.5 719.5" stroke="#333" stroke-width="1" fill="none"/>
<path d="M327.5 717L327.5 719.5" stroke="#333" stroke-width="1" fill="none"/>
<path d="M355.5 717L355.5 719.5" stroke="#333" stroke-width="1" fill="none"/>
<path d="M79 652.5L352 652.5" stroke="#444" stroke-width="1.2" fill="none"/>
<path d="M89 642.5V622.5H112.6" stroke="#777" stroke-width="1" fill="none"/>
<path d="M128.5 622.5H149V633" stroke="#777" stroke-width="1" fill="none"/>
<path d="M186 616H206.5V627.3" stroke="#777" stroke-width="1" fill="none"/>
<text x="88.68" y="620.9" font-size="7.9" font-weight="bold" fill="#000" stroke="#000" stroke-width="0.4" textLength="27.23" lengthAdjust="spacingAndGlyphs">p&lt;0.05</text>
<text x="128.18" y="618.6" font-size="7.9" font-weight="bold" fill="#000" stroke="#000" stroke-width="0.4" textLength="26.93" lengthAdjust="spacingAndGlyphs">p&lt;0.05</text>
<text x="182.68" y="613.4" font-size="7.9" font-weight="bold" fill="#000" stroke="#000" stroke-width="0.4" textLength="26.53" lengthAdjust="spacingAndGlyphs">p&lt;0.05</text>
<text x="364.08" y="678.6" font-size="8.1" font-weight="bold" fill="#000" stroke="#000" stroke-width="0.41" font-style="italic" textLength="6.65" lengthAdjust="spacingAndGlyphs">C</text>
<text x="370.34" y="678.6" font-size="6.4" font-weight="normal" fill="#333" stroke="#333" stroke-width="0.1" font-style="italic" textLength="31.21" lengthAdjust="spacingAndGlyphs">-Control</text>
<text x="364.06" y="690.1" font-size="8.4" font-weight="bold" fill="#555" stroke="#555" stroke-width="0.42" font-style="italic" textLength="6.37" lengthAdjust="spacingAndGlyphs">L</text>
<text x="369.84" y="690.1" font-size="6.4" font-weight="normal" fill="#333" stroke="#333" stroke-width="0.1" font-style="italic" textLength="41.71" lengthAdjust="spacingAndGlyphs">-Loxoribine</text>
<text x="363.72" y="700.2" font-size="7" font-weight="normal" fill="#333" stroke="#333" stroke-width="0.1" font-style="italic" textLength="36.36" lengthAdjust="spacingAndGlyphs">(100  uM)</text>
<text x="47.32" y="754.2" font-size="9.4" font-weight="bold" fill="#000" stroke="#000" stroke-width="0.2" textLength="27.25" lengthAdjust="spacingAndGlyphs">wt.Plt</text>
<text x="47.92" y="766.7" font-size="9.4" font-weight="bold" fill="#000" stroke="#000" stroke-width="0.2" textLength="26.65" lengthAdjust="spacingAndGlyphs">ko.Plt</text>
<text x="43.42" y="785.4" font-size="9.4" font-weight="bold" fill="#000" stroke="#000" stroke-width="0.2" textLength="35.95" lengthAdjust="spacingAndGlyphs">wt.PMN</text>
<text x="45.02" y="803.3" font-size="9.4" font-weight="bold" fill="#000" stroke="#000" stroke-width="0.2" textLength="34.35" lengthAdjust="spacingAndGlyphs">ko.PMN</text>
<text x="96" y="752.7" font-size="9.8" font-weight="bold" fill="#111" stroke="#111" stroke-width="0.1" text-anchor="middle">C</text>
<text x="120.6" y="752.7" font-size="10" font-weight="normal" fill="#777" stroke="#777" stroke-width="0.35" text-anchor="middle">L</text>
<text x="149" y="752.7" font-size="9.8" font-weight="bold" fill="#111" stroke="#111" stroke-width="0.1" text-anchor="middle">C</text>
<text x="179" y="752.7" font-size="10" font-weight="normal" fill="#777" stroke="#777" stroke-width="0.35" text-anchor="middle">L</text>
<text x="204" y="752.7" font-size="9.8" font-weight="bold" fill="#111" stroke="#111" stroke-width="0.1" text-anchor="middle">C</text>
<path d="M228.2 749.5L233.8 749.5" stroke="#333" stroke-width="1.1" fill="none"/>
<path d="M255.2 749.5L260.8 749.5" stroke="#333" stroke-width="1.1" fill="none"/>
<path d="M284.7 749.5L290.3 749.5" stroke="#333" stroke-width="1.1" fill="none"/>
<path d="M313.2 749.5L318.8 749.5" stroke="#333" stroke-width="1.1" fill="none"/>
<path d="M339.7 749.5L345.3 749.5" stroke="#333" stroke-width="1.1" fill="none"/>
<path d="M93.2 763.5L98.8 763.5" stroke="#333" stroke-width="1.1" fill="none"/>
<path d="M117.8 763.5L123.39999999999999 763.5" stroke="#333" stroke-width="1.1" fill="none"/>
<path d="M146.2 763.5L151.8 763.5" stroke="#333" stroke-width="1.1" fill="none"/>
<path d="M176.2 763.5L181.8 763.5" stroke="#333" stroke-width="1.1" fill="none"/>
<path d="M201.2 763.5L206.8 763.5" stroke="#333" stroke-width="1.1" fill="none"/>
<text x="231" y="766.5" font-size="9.8" font-weight="bold" fill="#111" stroke="#111" stroke-width="0.1" text-anchor="middle">C</text>
<text x="258" y="766.5" font-size="10" font-weight="normal" fill="#777" stroke="#777" stroke-width="0.35" text-anchor="middle">L</text>
<text x="287.5" y="766.5" font-size="9.8" font-weight="bold" fill="#111" stroke="#111" stroke-width="0.1" text-anchor="middle">C</text>
<text x="316" y="766.5" font-size="10" font-weight="normal" fill="#777" stroke="#777" stroke-width="0.35" text-anchor="middle">L</text>
<text x="342.5" y="766.5" font-size="9.8" font-weight="bold" fill="#111" stroke="#111" stroke-width="0.1" text-anchor="middle">C</text>
<path d="M93.2 780.5L98.8 780.5" stroke="#333" stroke-width="1.1" fill="none"/>
<path d="M117.8 780.5L123.39999999999999 780.5" stroke="#333" stroke-width="1.1" fill="none"/>
<path d="M146.2 780.5L151.8 780.5" stroke="#333" stroke-width="1.1" fill="none"/>
<text x="179" y="783.6" font-size="9.8" font-weight="bold" fill="#111" stroke="#111" stroke-width="0.1" text-anchor="middle">C</text>
<text x="204" y="783.6" font-size="10" font-weight="normal" fill="#777" stroke="#777" stroke-width="0.35" text-anchor="middle">L</text>
<text x="231" y="783.6" font-size="9.8" font-weight="bold" fill="#111" stroke="#111" stroke-width="0.1" text-anchor="middle">C</text>
<text x="258" y="783.6" font-size="9.8" font-weight="bold" fill="#111" stroke="#111" stroke-width="0.1" text-anchor="middle">C</text>
<text x="287.5" y="783.6" font-size="10" font-weight="normal" fill="#777" stroke="#777" stroke-width="0.35" text-anchor="middle">L</text>
<path d="M313.2 780.5L318.8 780.5" stroke="#333" stroke-width="1.1" fill="none"/>
<path d="M339.7 780.5L345.3 780.5" stroke="#333" stroke-width="1.1" fill="none"/>
<text x="96" y="801.5" font-size="9.8" font-weight="bold" fill="#111" stroke="#111" stroke-width="0.1" text-anchor="middle">C</text>
<text x="120.6" y="801.5" font-size="9.8" font-weight="bold" fill="#111" stroke="#111" stroke-width="0.1" text-anchor="middle">C</text>
<text x="149" y="801.5" font-size="10" font-weight="normal" fill="#777" stroke="#777" stroke-width="0.35" text-anchor="middle">L</text>
<path d="M176.2 798.5L181.8 798.5" stroke="#333" stroke-width="1.1" fill="none"/>
<path d="M201.2 798.5L206.8 798.5" stroke="#333" stroke-width="1.1" fill="none"/>
<path d="M228.2 798.5L233.8 798.5" stroke="#333" stroke-width="1.1" fill="none"/>
<path d="M255.2 798.5L260.8 798.5" stroke="#333" stroke-width="1.1" fill="none"/>
<path d="M284.7 798.5L290.3 798.5" stroke="#333" stroke-width="1.1" fill="none"/>
<text x="316" y="801.5" font-size="9.8" font-weight="bold" fill="#111" stroke="#111" stroke-width="0.1" text-anchor="middle">C</text>
<text x="342.5" y="801.5" font-size="10" font-weight="normal" fill="#777" stroke="#777" stroke-width="0.35" text-anchor="middle">L</text></svg></body></html>
